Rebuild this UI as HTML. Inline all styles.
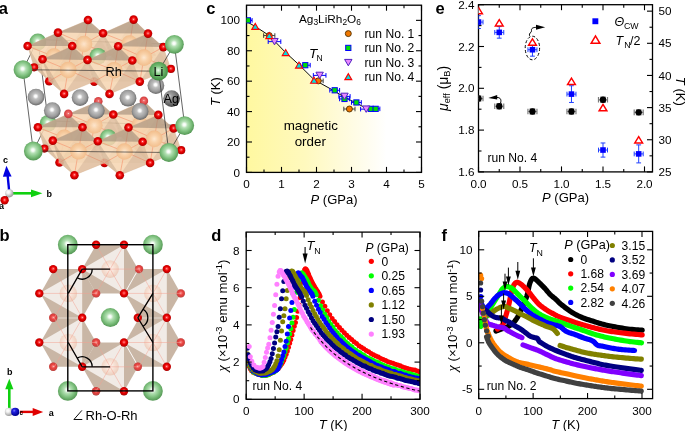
<!DOCTYPE html><html><head><meta charset="utf-8"><style>html,body{margin:0;padding:0;background:#fff;overflow:hidden}svg{display:block;font-family:"Liberation Sans",sans-serif;will-change:transform}</style></head><body>
<svg width="685" height="431" viewBox="0 0 685 431">
<rect width="685" height="431" fill="#fff"/>
<defs>
<radialGradient id="gO" cx="50%" cy="46%" r="58%" fx="50%" fy="46%">
<stop offset="0" stop-color="#FFE8E8"/>
<stop offset="0.14" stop-color="#FF5050"/>
<stop offset="0.45" stop-color="#E80000"/>
<stop offset="0.8" stop-color="#C00000"/>
<stop offset="1" stop-color="#880000"/>
</radialGradient>
<radialGradient id="gOf" cx="50%" cy="46%" r="58%" fx="50%" fy="46%">
<stop offset="0" stop-color="#FFE8E8"/>
<stop offset="0.18" stop-color="#F07070"/>
<stop offset="0.6" stop-color="#E04848"/>
<stop offset="1" stop-color="#B84040"/>
</radialGradient>
<radialGradient id="gLi" cx="48%" cy="45%" r="58%" fx="48%" fy="45%">
<stop offset="0" stop-color="#FFFFFF"/>
<stop offset="0.12" stop-color="#F4FCF4"/>
<stop offset="0.3" stop-color="#B4E0B4"/>
<stop offset="0.62" stop-color="#80C280"/>
<stop offset="1" stop-color="#4C904C"/>
</radialGradient>
<radialGradient id="gLi2" cx="48%" cy="45%" r="58%" fx="48%" fy="45%">
<stop offset="0" stop-color="#F4FCF4"/>
<stop offset="0.14" stop-color="#C0E8C0"/>
<stop offset="0.42" stop-color="#76BE76"/>
<stop offset="1" stop-color="#3A863A"/>
</radialGradient>
<radialGradient id="gAg" cx="48%" cy="45%" r="58%" fx="48%" fy="45%">
<stop offset="0" stop-color="#FFFFFF"/>
<stop offset="0.12" stop-color="#FAFAFA"/>
<stop offset="0.3" stop-color="#C0C0C0"/>
<stop offset="0.68" stop-color="#9C9C9C"/>
<stop offset="1" stop-color="#5E5E5E"/>
</radialGradient>
<radialGradient id="gAg2" cx="38%" cy="35%" r="62%" fx="38%" fy="35%">
<stop offset="0" stop-color="#D0D0D0"/>
<stop offset="0.2" stop-color="#A0A0A0"/>
<stop offset="0.55" stop-color="#808080"/>
<stop offset="1" stop-color="#505050"/>
</radialGradient>
<radialGradient id="gRh" cx="50%" cy="50%" r="55%" fx="50%" fy="50%">
<stop offset="0" stop-color="#FFEAD4"/>
<stop offset="0.4" stop-color="#F9D0A6"/>
<stop offset="0.85" stop-color="#F2BA86"/>
<stop offset="1" stop-color="#EAAA74"/>
</radialGradient>
<radialGradient id="gRhb" cx="48%" cy="45%" r="58%" fx="48%" fy="45%">
<stop offset="0" stop-color="#FFF8F4"/>
<stop offset="0.4" stop-color="#F8E4D8"/>
<stop offset="0.8" stop-color="#F0D2C2"/>
<stop offset="1" stop-color="#E6C6B4"/>
</radialGradient>
<radialGradient id="gW" cx="38%" cy="35%" r="62%" fx="38%" fy="35%">
<stop offset="0" stop-color="#FFFFFF"/>
<stop offset="0.3" stop-color="#F4F4F4"/>
<stop offset="1" stop-color="#A0A0A0"/>
</radialGradient>
<radialGradient id="gBl" cx="38%" cy="35%" r="62%" fx="38%" fy="35%">
<stop offset="0" stop-color="#8080FF"/>
<stop offset="0.3" stop-color="#2020E0"/>
<stop offset="1" stop-color="#000090"/>
</radialGradient>
</defs>
<line x1="37.8" y1="39.5" x2="48.1" y2="120.8" stroke="#303030" stroke-width="0.75" />
<line x1="174.4" y1="44.3" x2="184.7" y2="125.6" stroke="#303030" stroke-width="0.75" />
<line x1="37.8" y1="39.5" x2="174.4" y2="44.3" stroke="#303030" stroke-width="0.75" />
<line x1="48.1" y1="120.8" x2="184.7" y2="125.6" stroke="#303030" stroke-width="0.75" />
<line x1="37.8" y1="39.5" x2="23" y2="69.7" stroke="#303030" stroke-width="0.75" />
<line x1="48.1" y1="120.8" x2="33.3" y2="151" stroke="#303030" stroke-width="0.75" />
<polygon points="98.3,101.3 113.3,114.5 120.6,136.5 90.25,149.4 75.3,136.4 68.3,113.9" fill="#F6D3AE" fill-opacity="0.84" />
<polygon points="98.3,101.3 75.3,136.4 120.6,136.5" fill="#E9C6A2" fill-opacity="0.3" />
<path d="M94.3,125.3L98.3,101.3M94.3,125.3L68.3,113.9M94.3,125.3L113.3,114.5M94.3,125.3L75.3,136.4M94.3,125.3L120.6,136.5M94.3,125.3L90.25,149.4" stroke="#F58C64" stroke-width="0.8" opacity="0.85"/>
<circle cx="94.3" cy="125.3" r="8.3" fill="url(#gRh)" opacity="0.95"/>
<polygon points="68.3,113.9 113.3,114.5 90.25,149.4" fill="#FBE0C2" fill-opacity="0.16" />
<polygon points="68.3,113.9 75.3,136.4 90.25,149.4" fill="#B49A82" fill-opacity="0.4" />
<polygon points="113.3,114.5 120.6,136.5 90.25,149.4" fill="#BEA28A" fill-opacity="0.34" />
<polygon points="98.3,101.3 68.3,113.9 113.3,114.5" fill="#A08C7A" fill-opacity="0.62" />
<polygon points="98.3,101.3 113.3,114.5 120.6,136.5 90.25,149.4 75.3,136.4 68.3,113.9" fill="none" stroke="#D0A888" stroke-width="0.4" opacity="0.6"/>
<polygon points="143.9,100.9 158.3,114.9 165.9,136.6 135.55,149.4 120.6,136.5 113.3,114.5" fill="#F6D3AE" fill-opacity="0.84" />
<polygon points="143.9,100.9 120.6,136.5 165.9,136.6" fill="#E9C6A2" fill-opacity="0.3" />
<path d="M139.9,124.9L143.9,100.9M139.9,124.9L113.3,114.5M139.9,124.9L158.3,114.9M139.9,124.9L120.6,136.5M139.9,124.9L165.9,136.6M139.9,124.9L135.55,149.4" stroke="#F58C64" stroke-width="0.8" opacity="0.85"/>
<circle cx="139.9" cy="124.9" r="8.3" fill="url(#gRh)" opacity="0.95"/>
<polygon points="113.3,114.5 158.3,114.9 135.55,149.4" fill="#FBE0C2" fill-opacity="0.16" />
<polygon points="113.3,114.5 120.6,136.5 135.55,149.4" fill="#B49A82" fill-opacity="0.4" />
<polygon points="158.3,114.9 165.9,136.6 135.55,149.4" fill="#BEA28A" fill-opacity="0.34" />
<polygon points="143.9,100.9 113.3,114.5 158.3,114.9" fill="#A08C7A" fill-opacity="0.62" />
<polygon points="143.9,100.9 158.3,114.9 165.9,136.6 135.55,149.4 120.6,136.5 113.3,114.5" fill="none" stroke="#D0A888" stroke-width="0.4" opacity="0.6"/>
<circle cx="48.2" cy="123.3" r="8.4" fill="url(#gLi)"/>
<circle cx="108.3" cy="137.6" r="8.4" fill="url(#gLi)"/>
<polygon points="68.3,113.9 82.5,127.3 90.25,149.4 59.5,162.5 44.4,148.6 37.9,127.3" fill="#F6D3AE" fill-opacity="0.84" />
<polygon points="68.3,113.9 44.4,148.6 90.25,149.4" fill="#E9C6A2" fill-opacity="0.3" />
<path d="M64.3,137.9L68.3,113.9M64.3,137.9L37.9,127.3M64.3,137.9L82.5,127.3M64.3,137.9L44.4,148.6M64.3,137.9L90.25,149.4M64.3,137.9L59.5,162.5" stroke="#F58C64" stroke-width="0.8" opacity="0.85"/>
<circle cx="64.3" cy="137.9" r="8.3" fill="url(#gRh)" opacity="1.0"/>
<polygon points="37.9,127.3 82.5,127.3 59.5,162.5" fill="#FBE0C2" fill-opacity="0.16" />
<polygon points="37.9,127.3 44.4,148.6 59.5,162.5" fill="#B49A82" fill-opacity="0.4" />
<polygon points="82.5,127.3 90.25,149.4 59.5,162.5" fill="#BEA28A" fill-opacity="0.34" />
<polygon points="68.3,113.9 37.9,127.3 82.5,127.3" fill="#A08C7A" fill-opacity="0.62" />
<polygon points="68.3,113.9 82.5,127.3 90.25,149.4 59.5,162.5 44.4,148.6 37.9,127.3" fill="none" stroke="#D0A888" stroke-width="0.4" opacity="0.6"/>
<polygon points="158.3,114.9 173.6,128.4 181.2,150.2 150.1,162.9 135.55,149.4 128.5,127.5" fill="#F6D3AE" fill-opacity="0.84" />
<polygon points="158.3,114.9 135.55,149.4 181.2,150.2" fill="#E9C6A2" fill-opacity="0.3" />
<path d="M154.3,138.9L158.3,114.9M154.3,138.9L128.5,127.5M154.3,138.9L173.6,128.4M154.3,138.9L135.55,149.4M154.3,138.9L181.2,150.2M154.3,138.9L150.1,162.9" stroke="#F58C64" stroke-width="0.8" opacity="0.85"/>
<circle cx="154.3" cy="138.9" r="8.3" fill="url(#gRh)" opacity="1.0"/>
<polygon points="128.5,127.5 173.6,128.4 150.1,162.9" fill="#FBE0C2" fill-opacity="0.16" />
<polygon points="128.5,127.5 135.55,149.4 150.1,162.9" fill="#B49A82" fill-opacity="0.4" />
<polygon points="173.6,128.4 181.2,150.2 150.1,162.9" fill="#BEA28A" fill-opacity="0.34" />
<polygon points="158.3,114.9 128.5,127.5 173.6,128.4" fill="#A08C7A" fill-opacity="0.62" />
<polygon points="158.3,114.9 173.6,128.4 181.2,150.2 150.1,162.9 135.55,149.4 128.5,127.5" fill="none" stroke="#D0A888" stroke-width="0.4" opacity="0.6"/>
<circle cx="44.4" cy="148.6" r="4.1" fill="url(#gO)"/>
<circle cx="181.2" cy="150.2" r="4.1" fill="url(#gO)"/>
<circle cx="59.5" cy="162.5" r="4.3" fill="url(#gO)"/>
<circle cx="104.5" cy="162.9" r="4.3" fill="url(#gO)"/>
<polygon points="82.5,127.3 97.8,141.2 104.5,162.9 74.4,175.2 59.5,162.5 52.8,140.6" fill="#F6D3AE" fill-opacity="0.84" />
<polygon points="82.5,127.3 59.5,162.5 104.5,162.9" fill="#E9C6A2" fill-opacity="0.3" />
<path d="M78.5,151.3L82.5,127.3M78.5,151.3L52.8,140.6M78.5,151.3L97.8,141.2M78.5,151.3L59.5,162.5M78.5,151.3L104.5,162.9M78.5,151.3L74.4,175.2" stroke="#F58C64" stroke-width="0.8" opacity="0.85"/>
<circle cx="78.5" cy="151.3" r="8.3" fill="url(#gRh)" opacity="1.0"/>
<polygon points="52.8,140.6 97.8,141.2 74.4,175.2" fill="#FBE0C2" fill-opacity="0.16" />
<polygon points="52.8,140.6 59.5,162.5 74.4,175.2" fill="#B49A82" fill-opacity="0.4" />
<polygon points="97.8,141.2 104.5,162.9 74.4,175.2" fill="#BEA28A" fill-opacity="0.34" />
<polygon points="82.5,127.3 52.8,140.6 97.8,141.2" fill="#A08C7A" fill-opacity="0.62" />
<polygon points="82.5,127.3 97.8,141.2 104.5,162.9 74.4,175.2 59.5,162.5 52.8,140.6" fill="none" stroke="#D0A888" stroke-width="0.4" opacity="0.6"/>
<polygon points="128.5,127.5 142.6,141.8 150.1,162.9 119.8,175.2 104.5,162.9 97.8,141.2" fill="#F6D3AE" fill-opacity="0.84" />
<polygon points="128.5,127.5 104.5,162.9 150.1,162.9" fill="#E9C6A2" fill-opacity="0.3" />
<path d="M124.5,151.5L128.5,127.5M124.5,151.5L97.8,141.2M124.5,151.5L142.6,141.8M124.5,151.5L104.5,162.9M124.5,151.5L150.1,162.9M124.5,151.5L119.8,175.2" stroke="#F58C64" stroke-width="0.8" opacity="0.85"/>
<circle cx="124.5" cy="151.5" r="8.3" fill="url(#gRh)" opacity="1.0"/>
<polygon points="97.8,141.2 142.6,141.8 119.8,175.2" fill="#FBE0C2" fill-opacity="0.16" />
<polygon points="97.8,141.2 104.5,162.9 119.8,175.2" fill="#B49A82" fill-opacity="0.4" />
<polygon points="142.6,141.8 150.1,162.9 119.8,175.2" fill="#BEA28A" fill-opacity="0.34" />
<polygon points="128.5,127.5 97.8,141.2 142.6,141.8" fill="#A08C7A" fill-opacity="0.62" />
<polygon points="128.5,127.5 142.6,141.8 150.1,162.9 119.8,175.2 104.5,162.9 97.8,141.2" fill="none" stroke="#D0A888" stroke-width="0.4" opacity="0.6"/>
<circle cx="98.3" cy="101.3" r="4.3" fill="url(#gOf)"/>
<circle cx="143.9" cy="100.9" r="4.3" fill="url(#gOf)"/>
<circle cx="68.3" cy="113.9" r="4.3" fill="url(#gOf)"/>
<circle cx="113.3" cy="114.5" r="4.3" fill="url(#gO)"/>
<circle cx="158.3" cy="114.9" r="4.3" fill="url(#gO)"/>
<circle cx="37.9" cy="127.3" r="4.3" fill="url(#gO)"/>
<circle cx="82.5" cy="127.3" r="4.3" fill="url(#gO)"/>
<circle cx="128.5" cy="127.5" r="4.3" fill="url(#gO)"/>
<circle cx="173.6" cy="128.4" r="4.3" fill="url(#gO)"/>
<circle cx="52.8" cy="140.6" r="4.3" fill="url(#gO)"/>
<circle cx="97.8" cy="141.2" r="4.3" fill="url(#gO)"/>
<circle cx="142.6" cy="141.8" r="4.3" fill="url(#gO)"/>
<circle cx="74.4" cy="175.2" r="4.3" fill="url(#gO)"/>
<circle cx="119.8" cy="175.2" r="4.3" fill="url(#gO)"/>
<circle cx="150.1" cy="162.9" r="4.3" fill="url(#gO)"/>
<circle cx="36" cy="97.1" r="8.4" fill="url(#gAg)"/>
<circle cx="80.1" cy="97.6" r="8.4" fill="url(#gAg)"/>
<circle cx="128" cy="98.2" r="8.4" fill="url(#gAg)"/>
<circle cx="155.9" cy="85.6" r="8.4" fill="url(#gAg)"/>
<circle cx="52.3" cy="110.6" r="8.4" fill="url(#gAg)"/>
<circle cx="96.3" cy="110.6" r="8.4" fill="url(#gAg)"/>
<circle cx="140.1" cy="111.5" r="8.4" fill="url(#gAg)"/>
<circle cx="171.6" cy="98.6" r="8.4" fill="url(#gAg2)"/>
<polygon points="88,20 103,33.2 110.3,55.2 79.95,68.1 65,55.1 58,32.6" fill="#F6D3AE" fill-opacity="0.84" />
<polygon points="88,20 65,55.1 110.3,55.2" fill="#E9C6A2" fill-opacity="0.3" />
<path d="M84,44L88,20M84,44L58,32.6M84,44L103,33.2M84,44L65,55.1M84,44L110.3,55.2M84,44L79.95,68.1" stroke="#F58C64" stroke-width="0.8" opacity="0.85"/>
<circle cx="84" cy="44" r="8.3" fill="url(#gRh)" opacity="0.95"/>
<polygon points="58,32.6 103,33.2 79.95,68.1" fill="#FBE0C2" fill-opacity="0.16" />
<polygon points="58,32.6 65,55.1 79.95,68.1" fill="#B49A82" fill-opacity="0.4" />
<polygon points="103,33.2 110.3,55.2 79.95,68.1" fill="#BEA28A" fill-opacity="0.34" />
<polygon points="88,20 58,32.6 103,33.2" fill="#A08C7A" fill-opacity="0.62" />
<polygon points="88,20 103,33.2 110.3,55.2 79.95,68.1 65,55.1 58,32.6" fill="none" stroke="#D0A888" stroke-width="0.4" opacity="0.6"/>
<polygon points="133.6,19.6 148,33.6 155.6,55.3 125.25,68.1 110.3,55.2 103,33.2" fill="#F6D3AE" fill-opacity="0.84" />
<polygon points="133.6,19.6 110.3,55.2 155.6,55.3" fill="#E9C6A2" fill-opacity="0.3" />
<path d="M129.6,43.6L133.6,19.6M129.6,43.6L103,33.2M129.6,43.6L148,33.6M129.6,43.6L110.3,55.2M129.6,43.6L155.6,55.3M129.6,43.6L125.25,68.1" stroke="#F58C64" stroke-width="0.8" opacity="0.85"/>
<circle cx="129.6" cy="43.6" r="8.3" fill="url(#gRh)" opacity="0.95"/>
<polygon points="103,33.2 148,33.6 125.25,68.1" fill="#FBE0C2" fill-opacity="0.16" />
<polygon points="103,33.2 110.3,55.2 125.25,68.1" fill="#B49A82" fill-opacity="0.4" />
<polygon points="148,33.6 155.6,55.3 125.25,68.1" fill="#BEA28A" fill-opacity="0.34" />
<polygon points="133.6,19.6 103,33.2 148,33.6" fill="#A08C7A" fill-opacity="0.62" />
<polygon points="133.6,19.6 148,33.6 155.6,55.3 125.25,68.1 110.3,55.2 103,33.2" fill="none" stroke="#D0A888" stroke-width="0.4" opacity="0.6"/>
<circle cx="37.9" cy="42" r="8.4" fill="url(#gLi)"/>
<circle cx="98" cy="56.3" r="8.4" fill="url(#gLi)"/>
<polygon points="58,32.6 72.2,46 79.95,68.1 49.2,81.2 34.1,67.3 27.6,46" fill="#F6D3AE" fill-opacity="0.84" />
<polygon points="58,32.6 34.1,67.3 79.95,68.1" fill="#E9C6A2" fill-opacity="0.3" />
<path d="M54,56.6L58,32.6M54,56.6L27.6,46M54,56.6L72.2,46M54,56.6L34.1,67.3M54,56.6L79.95,68.1M54,56.6L49.2,81.2" stroke="#F58C64" stroke-width="0.8" opacity="0.85"/>
<circle cx="54" cy="56.6" r="8.3" fill="url(#gRh)" opacity="1.0"/>
<polygon points="27.6,46 72.2,46 49.2,81.2" fill="#FBE0C2" fill-opacity="0.16" />
<polygon points="27.6,46 34.1,67.3 49.2,81.2" fill="#B49A82" fill-opacity="0.4" />
<polygon points="72.2,46 79.95,68.1 49.2,81.2" fill="#BEA28A" fill-opacity="0.34" />
<polygon points="58,32.6 27.6,46 72.2,46" fill="#A08C7A" fill-opacity="0.62" />
<polygon points="58,32.6 72.2,46 79.95,68.1 49.2,81.2 34.1,67.3 27.6,46" fill="none" stroke="#D0A888" stroke-width="0.4" opacity="0.6"/>
<polygon points="148,33.6 163.3,47.1 170.9,68.9 139.8,81.6 125.25,68.1 118.2,46.2" fill="#F6D3AE" fill-opacity="0.84" />
<polygon points="148,33.6 125.25,68.1 170.9,68.9" fill="#E9C6A2" fill-opacity="0.3" />
<path d="M144,57.6L148,33.6M144,57.6L118.2,46.2M144,57.6L163.3,47.1M144,57.6L125.25,68.1M144,57.6L170.9,68.9M144,57.6L139.8,81.6" stroke="#F58C64" stroke-width="0.8" opacity="0.85"/>
<circle cx="144" cy="57.6" r="8.3" fill="url(#gRh)" opacity="1.0"/>
<polygon points="118.2,46.2 163.3,47.1 139.8,81.6" fill="#FBE0C2" fill-opacity="0.16" />
<polygon points="118.2,46.2 125.25,68.1 139.8,81.6" fill="#B49A82" fill-opacity="0.4" />
<polygon points="163.3,47.1 170.9,68.9 139.8,81.6" fill="#BEA28A" fill-opacity="0.34" />
<polygon points="148,33.6 118.2,46.2 163.3,47.1" fill="#A08C7A" fill-opacity="0.62" />
<polygon points="148,33.6 163.3,47.1 170.9,68.9 139.8,81.6 125.25,68.1 118.2,46.2" fill="none" stroke="#D0A888" stroke-width="0.4" opacity="0.6"/>
<circle cx="34.1" cy="67.3" r="4.1" fill="url(#gO)"/>
<circle cx="170.9" cy="68.9" r="4.1" fill="url(#gO)"/>
<circle cx="49.2" cy="81.2" r="4.3" fill="url(#gO)"/>
<circle cx="94.2" cy="81.6" r="4.3" fill="url(#gO)"/>
<polygon points="72.2,46 87.5,59.9 94.2,81.6 64.1,93.9 49.2,81.2 42.5,59.3" fill="#F6D3AE" fill-opacity="0.84" />
<polygon points="72.2,46 49.2,81.2 94.2,81.6" fill="#E9C6A2" fill-opacity="0.3" />
<path d="M68.2,70L72.2,46M68.2,70L42.5,59.3M68.2,70L87.5,59.9M68.2,70L49.2,81.2M68.2,70L94.2,81.6M68.2,70L64.1,93.9" stroke="#F58C64" stroke-width="0.8" opacity="0.85"/>
<circle cx="68.2" cy="70" r="8.3" fill="url(#gRh)" opacity="1.0"/>
<polygon points="42.5,59.3 87.5,59.9 64.1,93.9" fill="#FBE0C2" fill-opacity="0.16" />
<polygon points="42.5,59.3 49.2,81.2 64.1,93.9" fill="#B49A82" fill-opacity="0.4" />
<polygon points="87.5,59.9 94.2,81.6 64.1,93.9" fill="#BEA28A" fill-opacity="0.34" />
<polygon points="72.2,46 42.5,59.3 87.5,59.9" fill="#A08C7A" fill-opacity="0.62" />
<polygon points="72.2,46 87.5,59.9 94.2,81.6 64.1,93.9 49.2,81.2 42.5,59.3" fill="none" stroke="#D0A888" stroke-width="0.4" opacity="0.6"/>
<polygon points="118.2,46.2 132.3,60.5 139.8,81.6 109.5,93.9 94.2,81.6 87.5,59.9" fill="#F6D3AE" fill-opacity="0.84" />
<polygon points="118.2,46.2 94.2,81.6 139.8,81.6" fill="#E9C6A2" fill-opacity="0.3" />
<path d="M114.2,70.2L118.2,46.2M114.2,70.2L87.5,59.9M114.2,70.2L132.3,60.5M114.2,70.2L94.2,81.6M114.2,70.2L139.8,81.6M114.2,70.2L109.5,93.9" stroke="#F58C64" stroke-width="0.8" opacity="0.85"/>
<circle cx="114.2" cy="70.2" r="8.3" fill="url(#gRh)" opacity="1.0"/>
<polygon points="87.5,59.9 132.3,60.5 109.5,93.9" fill="#FBE0C2" fill-opacity="0.16" />
<polygon points="87.5,59.9 94.2,81.6 109.5,93.9" fill="#B49A82" fill-opacity="0.4" />
<polygon points="132.3,60.5 139.8,81.6 109.5,93.9" fill="#BEA28A" fill-opacity="0.34" />
<polygon points="118.2,46.2 87.5,59.9 132.3,60.5" fill="#A08C7A" fill-opacity="0.62" />
<polygon points="118.2,46.2 132.3,60.5 139.8,81.6 109.5,93.9 94.2,81.6 87.5,59.9" fill="none" stroke="#D0A888" stroke-width="0.4" opacity="0.6"/>
<circle cx="88" cy="20" r="4.3" fill="url(#gO)"/>
<circle cx="133.6" cy="19.6" r="4.3" fill="url(#gO)"/>
<circle cx="58" cy="32.6" r="4.3" fill="url(#gO)"/>
<circle cx="103" cy="33.2" r="4.3" fill="url(#gO)"/>
<circle cx="148" cy="33.6" r="4.3" fill="url(#gO)"/>
<circle cx="27.6" cy="46" r="4.3" fill="url(#gO)"/>
<circle cx="72.2" cy="46" r="4.3" fill="url(#gO)"/>
<circle cx="118.2" cy="46.2" r="4.3" fill="url(#gO)"/>
<circle cx="163.3" cy="47.1" r="4.3" fill="url(#gO)"/>
<circle cx="42.5" cy="59.3" r="4.3" fill="url(#gO)"/>
<circle cx="87.5" cy="59.9" r="4.3" fill="url(#gO)"/>
<circle cx="132.3" cy="60.5" r="4.3" fill="url(#gO)"/>
<circle cx="64.1" cy="93.9" r="4.3" fill="url(#gO)"/>
<circle cx="109.5" cy="93.9" r="4.3" fill="url(#gO)"/>
<circle cx="139.8" cy="81.6" r="4.3" fill="url(#gO)"/>
<line x1="23" y1="69.7" x2="33.3" y2="151" stroke="#303030" stroke-width="0.75" />
<line x1="158.6" y1="71.2" x2="168.9" y2="152.5" stroke="#303030" stroke-width="0.75" />
<line x1="158.6" y1="71.2" x2="174.4" y2="44.3" stroke="#303030" stroke-width="0.75" />
<line x1="168.9" y1="152.5" x2="184.7" y2="125.6" stroke="#303030" stroke-width="0.75" />
<line x1="23" y1="69.7" x2="158.6" y2="71.2" stroke="#303030" stroke-width="0.9" opacity="0.75"/>
<line x1="33.3" y1="151" x2="168.9" y2="152.5" stroke="#303030" stroke-width="0.9" opacity="0.75"/>
<circle cx="23" cy="69.7" r="9.4" fill="url(#gLi)"/>
<circle cx="33.3" cy="151" r="9.4" fill="url(#gLi)"/>
<circle cx="158.6" cy="71.2" r="9.4" fill="url(#gLi2)"/>
<circle cx="168.9" cy="152.5" r="9.4" fill="url(#gLi)"/>
<circle cx="174.4" cy="44.3" r="9.4" fill="url(#gLi)"/>
<circle cx="184.7" cy="125.6" r="9.4" fill="url(#gLi)"/>
<text x="105.6" y="75.6" font-size="12.8">Rh</text>
<text x="153.4" y="75.6" font-size="12.8">Li</text>
<text x="163.6" y="102.8" font-size="12.6">Ag</text>
<line x1="9.3" y1="192.5" x2="7.6" y2="175" stroke="#0000E0" stroke-width="2.4"/>
<polygon points="2.9,176.8 11.6,176.4 6.4,165.8" fill="#0000E0"/>
<line x1="11" y1="193.3" x2="32" y2="193.3" stroke="#10D010" stroke-width="2.6"/>
<polygon points="31,189.6 42.4,193.3 31,197.2" fill="#10D010"/>
<line x1="9" y1="194" x2="5" y2="199.5" stroke="#900000" stroke-width="2.4"/>
<circle cx="9.3" cy="193.3" r="4.1" fill="url(#gW)"/>
<circle cx="4.6" cy="200.3" r="4.2" fill="url(#gO)"/>
<text x="3" y="163.4" font-size="9" font-weight="bold">c</text>
<text x="46.6" y="196.8" font-size="9" font-weight="bold">b</text>
<text x="-1" y="209" font-size="9" font-weight="bold">a</text>
<polygon points="138,269.1 124.05,244.75 96.15,244.75 82.2,269.1 96.15,293.45 124.05,293.45" fill="#BCA48E" fill-opacity="0.8" />
<polygon points="96.2,293.4 82.25,269.05 54.35,269.05 40.4,293.4 54.35,317.75 82.25,317.75" fill="#BCA48E" fill-opacity="0.8" />
<polygon points="180.8,293.4 166.85,269.05 138.95,269.05 125,293.4 138.95,317.75 166.85,317.75" fill="#BCA48E" fill-opacity="0.8" />
<polygon points="96.2,342.5 82.25,318.15 54.35,318.15 40.4,342.5 54.35,366.85 82.25,366.85" fill="#BCA48E" fill-opacity="0.8" />
<polygon points="180.8,342.5 166.85,318.15 138.95,318.15 125,342.5 138.95,366.85 166.85,366.85" fill="#BCA48E" fill-opacity="0.8" />
<polygon points="138,366.8 124.05,342.45 96.15,342.45 82.2,366.8 96.15,391.15 124.05,391.15" fill="#BCA48E" fill-opacity="0.8" />
<circle cx="96.1" cy="293.4" r="4.2" fill="url(#gO)"/>
<circle cx="139" cy="269.1" r="4.2" fill="url(#gO)"/>
<circle cx="180.8" cy="293.4" r="4.2" fill="url(#gO)"/>
<circle cx="53.2" cy="317.8" r="4.2" fill="url(#gO)"/>
<circle cx="96.1" cy="342.5" r="4.2" fill="url(#gO)"/>
<circle cx="180.8" cy="342.5" r="4.2" fill="url(#gO)"/>
<circle cx="53.2" cy="366.8" r="4.2" fill="url(#gO)"/>
<circle cx="137.8" cy="366.8" r="4.2" fill="url(#gO)"/>
<circle cx="96.1" cy="391.2" r="4.2" fill="url(#gO)"/>
<circle cx="137.8" cy="317.8" r="4.2" fill="url(#gO)"/>
<polygon points="82.2,269.1 124,244.7 124,293.4" fill="#F4F0EC" fill-opacity="0.92" />
<circle cx="110.1" cy="269.1" r="8.8" fill="url(#gRhb)" opacity="0.95"/>
<path d="M110.1,269.1L138,269.1M110.1,269.1L124.05,244.75M110.1,269.1L96.15,244.75M110.1,269.1L82.2,269.1M110.1,269.1L96.15,293.45M110.1,269.1L124.05,293.45" stroke="#F4A090" stroke-width="0.7" opacity="0.7"/>
<polygon points="39.3,293.4 82.2,269.1 82.2,317.8" fill="#F4F0EC" fill-opacity="0.92" />
<circle cx="68.3" cy="293.4" r="8.8" fill="url(#gRhb)" opacity="0.95"/>
<path d="M68.3,293.4L96.2,293.4M68.3,293.4L82.25,269.05M68.3,293.4L54.35,269.05M68.3,293.4L40.4,293.4M68.3,293.4L54.35,317.75M68.3,293.4L82.25,317.75" stroke="#F4A090" stroke-width="0.7" opacity="0.7"/>
<polygon points="124,293.4 166.8,269.1 166.8,317.8" fill="#F4F0EC" fill-opacity="0.92" />
<circle cx="152.9" cy="293.4" r="8.8" fill="url(#gRhb)" opacity="0.95"/>
<path d="M152.9,293.4L180.8,293.4M152.9,293.4L166.85,269.05M152.9,293.4L138.95,269.05M152.9,293.4L125,293.4M152.9,293.4L138.95,317.75M152.9,293.4L166.85,317.75" stroke="#F4A090" stroke-width="0.7" opacity="0.7"/>
<polygon points="39.3,342.5 82.2,317.8 82.2,366.8" fill="#F4F0EC" fill-opacity="0.92" />
<circle cx="68.3" cy="342.5" r="8.8" fill="url(#gRhb)" opacity="0.95"/>
<path d="M68.3,342.5L96.2,342.5M68.3,342.5L82.25,318.15M68.3,342.5L54.35,318.15M68.3,342.5L40.4,342.5M68.3,342.5L54.35,366.85M68.3,342.5L82.25,366.85" stroke="#F4A090" stroke-width="0.7" opacity="0.7"/>
<polygon points="124,342.5 166.8,317.8 166.8,366.8" fill="#F4F0EC" fill-opacity="0.92" />
<circle cx="152.9" cy="342.5" r="8.8" fill="url(#gRhb)" opacity="0.95"/>
<path d="M152.9,342.5L180.8,342.5M152.9,342.5L166.85,318.15M152.9,342.5L138.95,318.15M152.9,342.5L125,342.5M152.9,342.5L138.95,366.85M152.9,342.5L166.85,366.85" stroke="#F4A090" stroke-width="0.7" opacity="0.7"/>
<polygon points="82.2,366.8 124,342.5 124,391.2" fill="#F4F0EC" fill-opacity="0.92" />
<circle cx="110.1" cy="366.8" r="8.8" fill="url(#gRhb)" opacity="0.95"/>
<path d="M110.1,366.8L138,366.8M110.1,366.8L124.05,342.45M110.1,366.8L96.15,342.45M110.1,366.8L82.2,366.8M110.1,366.8L96.15,391.15M110.1,366.8L124.05,391.15" stroke="#F4A090" stroke-width="0.7" opacity="0.7"/>
<circle cx="96.1" cy="293.4" r="4.3" fill="#E8DCD2" opacity="0.3"/>
<circle cx="139" cy="269.1" r="4.3" fill="#E8DCD2" opacity="0.3"/>
<circle cx="180.8" cy="293.4" r="4.3" fill="#E8DCD2" opacity="0.3"/>
<circle cx="53.2" cy="317.8" r="4.3" fill="#E8DCD2" opacity="0.3"/>
<circle cx="96.1" cy="342.5" r="4.3" fill="#E8DCD2" opacity="0.3"/>
<circle cx="180.8" cy="342.5" r="4.3" fill="#E8DCD2" opacity="0.3"/>
<circle cx="53.2" cy="366.8" r="4.3" fill="#E8DCD2" opacity="0.3"/>
<circle cx="137.8" cy="366.8" r="4.3" fill="#E8DCD2" opacity="0.3"/>
<circle cx="96.1" cy="391.2" r="4.3" fill="#E8DCD2" opacity="0.3"/>
<circle cx="96.1" cy="244.7" r="4.2" fill="url(#gO)"/>
<circle cx="124" cy="244.7" r="4.2" fill="url(#gO)"/>
<circle cx="53.2" cy="269.1" r="4.2" fill="url(#gO)"/>
<circle cx="82.2" cy="269.1" r="4.2" fill="url(#gO)"/>
<circle cx="166.8" cy="269.1" r="4.2" fill="url(#gO)"/>
<circle cx="39.3" cy="293.4" r="4.2" fill="url(#gO)"/>
<circle cx="124" cy="293.4" r="4.2" fill="url(#gO)"/>
<circle cx="82.2" cy="317.8" r="4.2" fill="url(#gO)"/>
<circle cx="166.8" cy="317.8" r="4.2" fill="url(#gO)"/>
<circle cx="39.3" cy="342.5" r="4.2" fill="url(#gO)"/>
<circle cx="124" cy="342.5" r="4.2" fill="url(#gO)"/>
<circle cx="82.2" cy="366.8" r="4.2" fill="url(#gO)"/>
<circle cx="166.8" cy="366.8" r="4.2" fill="url(#gO)"/>
<circle cx="124" cy="391.2" r="4.2" fill="url(#gO)"/>
<circle cx="67.8" cy="244.7" r="9.9" fill="url(#gLi)"/>
<circle cx="152.9" cy="244.7" r="9.9" fill="url(#gLi)"/>
<circle cx="67.8" cy="390.9" r="9.9" fill="url(#gLi)"/>
<circle cx="152.9" cy="390.9" r="9.9" fill="url(#gLi)"/>
<circle cx="110.3" cy="317.6" r="9.5" fill="url(#gLi)"/>
<rect x="67.8" y="244.7" width="85.1" height="146.2" fill="none" stroke="#000" stroke-width="1.4"/>
<path d="M110.1,269.1 L82.2,269.1 L68.3,293.4" fill="none" stroke="#000" stroke-width="1.3"/>
<path d="M92.2,269.1 A10,10 0 0 1 77.2,277.8" fill="none" stroke="#000" stroke-width="1.3"/>
<path d="M110.1,366.8 L82.2,366.8 L68.3,342.5" fill="none" stroke="#000" stroke-width="1.3"/>
<path d="M92.2,366.8 A10,10 0 0 0 77.2,358.1" fill="none" stroke="#000" stroke-width="1.3"/>
<path d="M152.9,293.4 L137.8,317.8 L152.9,342.5" fill="none" stroke="#000" stroke-width="1.3"/>
<path d="M143.1,309.3 A10,10 0 0 1 143.1,326.3" fill="none" stroke="#000" stroke-width="1.3"/>
<path d="M81.9,410.4 L73.9,419.5 L82.3,419.5" fill="none" stroke="#000" stroke-width="0.95"/>
<text x="85.6" y="419.8" font-size="13">Rh-O-Rh</text>
<line x1="9.3" y1="410" x2="9.3" y2="388" stroke="#10D010" stroke-width="2.6"/>
<polygon points="5.2,389.2 13.4,389.2 9.3,378.7" fill="#10D010"/>
<line x1="20" y1="411.9" x2="34" y2="411.9" stroke="#E00000" stroke-width="2.4"/>
<polygon points="32.7,407.9 43.2,411.9 32.7,416" fill="#E00000"/>
<circle cx="8.9" cy="411.9" r="4.1" fill="url(#gW)"/>
<circle cx="15.2" cy="411.9" r="4.1" fill="url(#gBl)"/>
<text x="19.6" y="415" font-size="6.5" font-weight="bold">c</text>
<text x="7" y="375.2" font-size="9" font-weight="bold">b</text>
<text x="48.8" y="415.6" font-size="9" font-weight="bold">a</text>
<defs><linearGradient id="gc" x1="246.5" y1="0" x2="386.5" y2="0" gradientUnits="userSpaceOnUse"><stop offset="0" stop-color="#FFF8A0"/><stop offset="0.42" stop-color="#FFF9BE"/><stop offset="0.78" stop-color="#FFFCE6"/><stop offset="1" stop-color="#FFFFFF"/></linearGradient></defs>
<polygon points="246.5,172.4 246.5,21.57 255.25,26.43 269.25,35.56 285.7,52.58 299,64.75 314.05,79.65 332.25,89.84 344.5,97.14 356.4,103.07 367.25,108.84 407.5,108.84 407.5,172.4" fill="url(#gc)"/>
<polyline points="246.5,21.57 255.25,26.43 269.25,35.56 285.7,52.58 299,64.75 314.05,79.65 332.25,89.84 344.5,97.14 356.4,103.07 367.25,108.84" fill="none" stroke="#000" stroke-width="0.95"/>
<rect x="246.5" y="5.2" width="175" height="167.2" fill="none" stroke="#000" stroke-width="1.3"/>
<line x1="246.5" y1="172.4" x2="246.5" y2="166.9" stroke="#000" stroke-width="1.1" />
<line x1="246.5" y1="5.2" x2="246.5" y2="10.7" stroke="#000" stroke-width="1.1" />
<line x1="281.5" y1="172.4" x2="281.5" y2="166.9" stroke="#000" stroke-width="1.1" />
<line x1="281.5" y1="5.2" x2="281.5" y2="10.7" stroke="#000" stroke-width="1.1" />
<line x1="316.5" y1="172.4" x2="316.5" y2="166.9" stroke="#000" stroke-width="1.1" />
<line x1="316.5" y1="5.2" x2="316.5" y2="10.7" stroke="#000" stroke-width="1.1" />
<line x1="351.5" y1="172.4" x2="351.5" y2="166.9" stroke="#000" stroke-width="1.1" />
<line x1="351.5" y1="5.2" x2="351.5" y2="10.7" stroke="#000" stroke-width="1.1" />
<line x1="386.5" y1="172.4" x2="386.5" y2="166.9" stroke="#000" stroke-width="1.1" />
<line x1="386.5" y1="5.2" x2="386.5" y2="10.7" stroke="#000" stroke-width="1.1" />
<line x1="421.5" y1="172.4" x2="421.5" y2="166.9" stroke="#000" stroke-width="1.1" />
<line x1="421.5" y1="5.2" x2="421.5" y2="10.7" stroke="#000" stroke-width="1.1" />
<line x1="264" y1="172.4" x2="264" y2="169.4" stroke="#000" stroke-width="1.1" />
<line x1="264" y1="5.2" x2="264" y2="8.2" stroke="#000" stroke-width="1.1" />
<line x1="299" y1="172.4" x2="299" y2="169.4" stroke="#000" stroke-width="1.1" />
<line x1="299" y1="5.2" x2="299" y2="8.2" stroke="#000" stroke-width="1.1" />
<line x1="334" y1="172.4" x2="334" y2="169.4" stroke="#000" stroke-width="1.1" />
<line x1="334" y1="5.2" x2="334" y2="8.2" stroke="#000" stroke-width="1.1" />
<line x1="369" y1="172.4" x2="369" y2="169.4" stroke="#000" stroke-width="1.1" />
<line x1="369" y1="5.2" x2="369" y2="8.2" stroke="#000" stroke-width="1.1" />
<line x1="404" y1="172.4" x2="404" y2="169.4" stroke="#000" stroke-width="1.1" />
<line x1="404" y1="5.2" x2="404" y2="8.2" stroke="#000" stroke-width="1.1" />
<line x1="246.5" y1="172.4" x2="252" y2="172.4" stroke="#000" stroke-width="1.1" />
<line x1="246.5" y1="141.99" x2="252" y2="141.99" stroke="#000" stroke-width="1.1" />
<line x1="246.5" y1="111.58" x2="252" y2="111.58" stroke="#000" stroke-width="1.1" />
<line x1="246.5" y1="81.17" x2="252" y2="81.17" stroke="#000" stroke-width="1.1" />
<line x1="246.5" y1="50.76" x2="252" y2="50.76" stroke="#000" stroke-width="1.1" />
<line x1="246.5" y1="20.35" x2="252" y2="20.35" stroke="#000" stroke-width="1.1" />
<line x1="246.5" y1="157.19" x2="249.5" y2="157.19" stroke="#000" stroke-width="1.1" />
<line x1="246.5" y1="126.78" x2="249.5" y2="126.78" stroke="#000" stroke-width="1.1" />
<line x1="246.5" y1="96.38" x2="249.5" y2="96.38" stroke="#000" stroke-width="1.1" />
<line x1="246.5" y1="65.97" x2="249.5" y2="65.97" stroke="#000" stroke-width="1.1" />
<line x1="246.5" y1="35.56" x2="249.5" y2="35.56" stroke="#000" stroke-width="1.1" />
<line x1="421.5" y1="172.4" x2="416" y2="172.4" stroke="#000" stroke-width="1.1" />
<line x1="421.5" y1="141.99" x2="416" y2="141.99" stroke="#000" stroke-width="1.1" />
<line x1="421.5" y1="111.58" x2="416" y2="111.58" stroke="#000" stroke-width="1.1" />
<line x1="421.5" y1="81.17" x2="416" y2="81.17" stroke="#000" stroke-width="1.1" />
<line x1="421.5" y1="50.76" x2="416" y2="50.76" stroke="#000" stroke-width="1.1" />
<line x1="421.5" y1="20.35" x2="416" y2="20.35" stroke="#000" stroke-width="1.1" />
<line x1="421.5" y1="157.19" x2="418.5" y2="157.19" stroke="#000" stroke-width="1.1" />
<line x1="421.5" y1="126.78" x2="418.5" y2="126.78" stroke="#000" stroke-width="1.1" />
<line x1="421.5" y1="96.38" x2="418.5" y2="96.38" stroke="#000" stroke-width="1.1" />
<line x1="421.5" y1="65.97" x2="418.5" y2="65.97" stroke="#000" stroke-width="1.1" />
<line x1="421.5" y1="35.56" x2="418.5" y2="35.56" stroke="#000" stroke-width="1.1" />
<text x="246.5" y="188.3" font-size="11.7" text-anchor="middle" >0</text>
<text x="281.5" y="188.3" font-size="11.7" text-anchor="middle" >1</text>
<text x="316.5" y="188.3" font-size="11.7" text-anchor="middle" >2</text>
<text x="351.5" y="188.3" font-size="11.7" text-anchor="middle" >3</text>
<text x="386.5" y="188.3" font-size="11.7" text-anchor="middle" >4</text>
<text x="421.5" y="188.3" font-size="11.7" text-anchor="middle" >5</text>
<text x="240" y="176.5" font-size="11.7" text-anchor="end" >0</text>
<text x="240" y="146.09" font-size="11.7" text-anchor="end" >20</text>
<text x="240" y="115.68" font-size="11.7" text-anchor="end" >40</text>
<text x="240" y="85.27" font-size="11.7" text-anchor="end" >60</text>
<text x="240" y="54.86" font-size="11.7" text-anchor="end" >80</text>
<text x="240" y="24.45" font-size="11.7" text-anchor="end" >100</text>
<text x="334" y="204" font-size="13" text-anchor="middle"><tspan font-style="italic">P</tspan> (GPa)</text>
<text transform="translate(219.5,91.6) rotate(-90)" font-size="13" text-anchor="middle"><tspan font-style="italic">T</tspan> (K)</text>
<text x="299" y="22.5" font-size="11.8">Ag<tspan font-size="8.4" dy="2.6">3</tspan><tspan dy="-2.6">LiRh</tspan><tspan font-size="8.4" dy="2.6">2</tspan><tspan dy="-2.6">O</tspan><tspan font-size="8.4" dy="2.6">6</tspan></text>
<text x="308.9" y="57.6" font-size="13.5" font-style="italic">T</text><text x="316.5" y="61.1" font-size="8.6">N</text>
<text x="310.8" y="130.1" font-size="13.4" text-anchor="middle" >magnetic</text>
<text x="310.3" y="146.1" font-size="13.4" text-anchor="middle" >order</text>
<clipPath id="cc"><rect x="246.5" y="5.2" width="175" height="167.2"/></clipPath>
<g clip-path="url(#cc)">
<line x1="263.65" y1="35.56" x2="274.85" y2="35.56" stroke="#404040" stroke-width="1.0" />
<line x1="263.65" y1="33.26" x2="263.65" y2="37.86" stroke="#404040" stroke-width="1.0" />
<line x1="274.85" y1="33.26" x2="274.85" y2="37.86" stroke="#404040" stroke-width="1.0" />
<line x1="313.35" y1="80.87" x2="323.15" y2="80.87" stroke="#404040" stroke-width="1.0" />
<line x1="313.35" y1="78.57" x2="313.35" y2="83.17" stroke="#404040" stroke-width="1.0" />
<line x1="323.15" y1="78.57" x2="323.15" y2="83.17" stroke="#404040" stroke-width="1.0" />
<line x1="343.8" y1="109" x2="355" y2="109" stroke="#404040" stroke-width="1.0" />
<line x1="343.8" y1="106.7" x2="343.8" y2="111.3" stroke="#404040" stroke-width="1.0" />
<line x1="355" y1="106.7" x2="355" y2="111.3" stroke="#404040" stroke-width="1.0" />
<line x1="243.7" y1="20.35" x2="252.1" y2="20.35" stroke="#0000FF" stroke-width="1.0" />
<line x1="243.7" y1="18.05" x2="243.7" y2="22.65" stroke="#0000FF" stroke-width="1.0" />
<line x1="252.1" y1="18.05" x2="252.1" y2="22.65" stroke="#0000FF" stroke-width="1.0" />
<line x1="300.4" y1="65.2" x2="310.2" y2="65.2" stroke="#0000FF" stroke-width="1.0" />
<line x1="300.4" y1="62.9" x2="300.4" y2="67.5" stroke="#0000FF" stroke-width="1.0" />
<line x1="310.2" y1="62.9" x2="310.2" y2="67.5" stroke="#0000FF" stroke-width="1.0" />
<line x1="329.8" y1="90.29" x2="339.6" y2="90.29" stroke="#0000FF" stroke-width="1.0" />
<line x1="329.8" y1="87.99" x2="329.8" y2="92.59" stroke="#0000FF" stroke-width="1.0" />
<line x1="339.6" y1="87.99" x2="339.6" y2="92.59" stroke="#0000FF" stroke-width="1.0" />
<line x1="339.6" y1="98.96" x2="349.4" y2="98.96" stroke="#0000FF" stroke-width="1.0" />
<line x1="339.6" y1="96.66" x2="339.6" y2="101.26" stroke="#0000FF" stroke-width="1.0" />
<line x1="349.4" y1="96.66" x2="349.4" y2="101.26" stroke="#0000FF" stroke-width="1.0" />
<line x1="351.5" y1="102.46" x2="361.3" y2="102.46" stroke="#0000FF" stroke-width="1.0" />
<line x1="351.5" y1="100.16" x2="351.5" y2="104.76" stroke="#0000FF" stroke-width="1.0" />
<line x1="361.3" y1="100.16" x2="361.3" y2="104.76" stroke="#0000FF" stroke-width="1.0" />
<line x1="366.55" y1="108.84" x2="374.95" y2="108.84" stroke="#0000FF" stroke-width="1.0" />
<line x1="366.55" y1="106.54" x2="366.55" y2="111.14" stroke="#0000FF" stroke-width="1.0" />
<line x1="374.95" y1="106.54" x2="374.95" y2="111.14" stroke="#0000FF" stroke-width="1.0" />
<line x1="371.45" y1="108.84" x2="379.85" y2="108.84" stroke="#0000FF" stroke-width="1.0" />
<line x1="371.45" y1="106.54" x2="371.45" y2="111.14" stroke="#0000FF" stroke-width="1.0" />
<line x1="379.85" y1="106.54" x2="379.85" y2="111.14" stroke="#0000FF" stroke-width="1.0" />
<line x1="268.2" y1="41.64" x2="280.8" y2="41.64" stroke="#0000FF" stroke-width="1.0" />
<line x1="268.2" y1="39.34" x2="268.2" y2="43.94" stroke="#0000FF" stroke-width="1.0" />
<line x1="280.8" y1="39.34" x2="280.8" y2="43.94" stroke="#0000FF" stroke-width="1.0" />
<line x1="313.35" y1="75.39" x2="325.95" y2="75.39" stroke="#0000FF" stroke-width="1.0" />
<line x1="313.35" y1="73.09" x2="313.35" y2="77.69" stroke="#0000FF" stroke-width="1.0" />
<line x1="325.95" y1="73.09" x2="325.95" y2="77.69" stroke="#0000FF" stroke-width="1.0" />
<line x1="338.9" y1="96.38" x2="350.1" y2="96.38" stroke="#0000FF" stroke-width="1.0" />
<line x1="338.9" y1="94.08" x2="338.9" y2="98.68" stroke="#0000FF" stroke-width="1.0" />
<line x1="350.1" y1="94.08" x2="350.1" y2="98.68" stroke="#0000FF" stroke-width="1.0" />
<line x1="360.6" y1="109.15" x2="371.8" y2="109.15" stroke="#0000FF" stroke-width="1.0" />
<line x1="360.6" y1="106.85" x2="360.6" y2="111.45" stroke="#0000FF" stroke-width="1.0" />
<line x1="371.8" y1="106.85" x2="371.8" y2="111.45" stroke="#0000FF" stroke-width="1.0" />
<circle cx="269.25" cy="35.56" r="3.0" fill="#F07800" stroke="#503000" stroke-width="0.9"/>
<circle cx="318.25" cy="80.87" r="3.0" fill="#F07800" stroke="#503000" stroke-width="0.9"/>
<circle cx="349.4" cy="109" r="3.0" fill="#F07800" stroke="#503000" stroke-width="0.9"/>
<rect x="245.3" y="17.75" width="5.2" height="5.2" fill="#00E000" stroke="#0000FF" stroke-width="1.0"/>
<rect x="302.7" y="62.6" width="5.2" height="5.2" fill="#00E000" stroke="#0000FF" stroke-width="1.0"/>
<rect x="332.1" y="87.69" width="5.2" height="5.2" fill="#00E000" stroke="#0000FF" stroke-width="1.0"/>
<rect x="341.9" y="96.36" width="5.2" height="5.2" fill="#00E000" stroke="#0000FF" stroke-width="1.0"/>
<rect x="353.8" y="99.86" width="5.2" height="5.2" fill="#00E000" stroke="#0000FF" stroke-width="1.0"/>
<rect x="368.15" y="106.24" width="5.2" height="5.2" fill="#00E000" stroke="#0000FF" stroke-width="1.0"/>
<rect x="373.05" y="106.24" width="5.2" height="5.2" fill="#00E000" stroke="#0000FF" stroke-width="1.0"/>
<polygon points="270.8,38.44 278.2,38.44 274.5,44.84" fill="#E888FF" stroke="#5020C0" stroke-width="1.0" stroke-linejoin="miter"/>
<polygon points="315.95,72.19 323.35,72.19 319.65,78.59" fill="#E888FF" stroke="#5020C0" stroke-width="1.0" stroke-linejoin="miter"/>
<polygon points="340.8,93.18 348.2,93.18 344.5,99.58" fill="#E888FF" stroke="#5020C0" stroke-width="1.0" stroke-linejoin="miter"/>
<polygon points="362.5,105.95 369.9,105.95 366.2,112.35" fill="#E888FF" stroke="#5020C0" stroke-width="1.0" stroke-linejoin="miter"/>
<polygon points="251.8,29.43 258.7,29.43 255.25,23.43" fill="#00E0E0" stroke="#FF0000" stroke-width="1.15" stroke-linejoin="miter"/>
<polygon points="265.8,38.56 272.7,38.56 269.25,32.56" fill="#00E0E0" stroke="#FF0000" stroke-width="1.15" stroke-linejoin="miter"/>
<polygon points="282.25,55.58 289.15,55.58 285.7,49.58" fill="#00E0E0" stroke="#FF0000" stroke-width="1.15" stroke-linejoin="miter"/>
<polygon points="295.55,68.05 302.45,68.05 299,62.05" fill="#00E0E0" stroke="#FF0000" stroke-width="1.15" stroke-linejoin="miter"/>
<polygon points="310.6,83.26 317.5,83.26 314.05,77.26" fill="#00E0E0" stroke="#FF0000" stroke-width="1.15" stroke-linejoin="miter"/>
</g>
<circle cx="348.3" cy="33.6" r="3.0" fill="#F07800" stroke="#503000" stroke-width="0.9"/>
<rect x="345.7" y="45.3" width="5.2" height="5.2" fill="#00E000" stroke="#0000FF" stroke-width="1.0"/>
<polygon points="344.6,59.4 352,59.4 348.3,65.8" fill="#E888FF" stroke="#5020C0" stroke-width="1.0" stroke-linejoin="miter"/>
<polygon points="344.85,79.6 351.75,79.6 348.3,73.6" fill="#00E0E0" stroke="#FF0000" stroke-width="1.15" stroke-linejoin="miter"/>
<text x="364.6" y="37.8" font-size="12.1" text-anchor="start" >run No. 1</text>
<text x="364.6" y="52.2" font-size="12.1" text-anchor="start" >run No. 2</text>
<text x="364.6" y="66.6" font-size="12.1" text-anchor="start" >run No. 3</text>
<text x="364.6" y="81" font-size="12.1" text-anchor="start" >run No. 4</text>
<rect x="478.5" y="4.7" width="174" height="167.2" fill="none" stroke="#000" stroke-width="1.3"/>
<line x1="478.5" y1="171.9" x2="478.5" y2="166.4" stroke="#000" stroke-width="1.1" />
<line x1="478.5" y1="4.7" x2="478.5" y2="10.2" stroke="#000" stroke-width="1.1" />
<line x1="520" y1="171.9" x2="520" y2="166.4" stroke="#000" stroke-width="1.1" />
<line x1="520" y1="4.7" x2="520" y2="10.2" stroke="#000" stroke-width="1.1" />
<line x1="561.5" y1="171.9" x2="561.5" y2="166.4" stroke="#000" stroke-width="1.1" />
<line x1="561.5" y1="4.7" x2="561.5" y2="10.2" stroke="#000" stroke-width="1.1" />
<line x1="603" y1="171.9" x2="603" y2="166.4" stroke="#000" stroke-width="1.1" />
<line x1="603" y1="4.7" x2="603" y2="10.2" stroke="#000" stroke-width="1.1" />
<line x1="644.5" y1="171.9" x2="644.5" y2="166.4" stroke="#000" stroke-width="1.1" />
<line x1="644.5" y1="4.7" x2="644.5" y2="10.2" stroke="#000" stroke-width="1.1" />
<line x1="499.25" y1="171.9" x2="499.25" y2="168.9" stroke="#000" stroke-width="1.1" />
<line x1="499.25" y1="4.7" x2="499.25" y2="7.7" stroke="#000" stroke-width="1.1" />
<line x1="540.75" y1="171.9" x2="540.75" y2="168.9" stroke="#000" stroke-width="1.1" />
<line x1="540.75" y1="4.7" x2="540.75" y2="7.7" stroke="#000" stroke-width="1.1" />
<line x1="582.25" y1="171.9" x2="582.25" y2="168.9" stroke="#000" stroke-width="1.1" />
<line x1="582.25" y1="4.7" x2="582.25" y2="7.7" stroke="#000" stroke-width="1.1" />
<line x1="623.75" y1="171.9" x2="623.75" y2="168.9" stroke="#000" stroke-width="1.1" />
<line x1="623.75" y1="4.7" x2="623.75" y2="7.7" stroke="#000" stroke-width="1.1" />
<line x1="478.5" y1="171.9" x2="484" y2="171.9" stroke="#000" stroke-width="1.1" />
<line x1="478.5" y1="130.1" x2="484" y2="130.1" stroke="#000" stroke-width="1.1" />
<line x1="478.5" y1="88.3" x2="484" y2="88.3" stroke="#000" stroke-width="1.1" />
<line x1="478.5" y1="46.5" x2="484" y2="46.5" stroke="#000" stroke-width="1.1" />
<line x1="478.5" y1="4.7" x2="484" y2="4.7" stroke="#000" stroke-width="1.1" />
<line x1="478.5" y1="151" x2="481.5" y2="151" stroke="#000" stroke-width="1.1" />
<line x1="478.5" y1="109.2" x2="481.5" y2="109.2" stroke="#000" stroke-width="1.1" />
<line x1="478.5" y1="67.4" x2="481.5" y2="67.4" stroke="#000" stroke-width="1.1" />
<line x1="478.5" y1="25.6" x2="481.5" y2="25.6" stroke="#000" stroke-width="1.1" />
<line x1="652.5" y1="171.9" x2="647" y2="171.9" stroke="#000" stroke-width="1.1" />
<line x1="652.5" y1="139.75" x2="647" y2="139.75" stroke="#000" stroke-width="1.1" />
<line x1="652.5" y1="107.6" x2="647" y2="107.6" stroke="#000" stroke-width="1.1" />
<line x1="652.5" y1="75.45" x2="647" y2="75.45" stroke="#000" stroke-width="1.1" />
<line x1="652.5" y1="43.3" x2="647" y2="43.3" stroke="#000" stroke-width="1.1" />
<line x1="652.5" y1="11.15" x2="647" y2="11.15" stroke="#000" stroke-width="1.1" />
<line x1="652.5" y1="155.83" x2="649.5" y2="155.83" stroke="#000" stroke-width="1.1" />
<line x1="652.5" y1="123.68" x2="649.5" y2="123.68" stroke="#000" stroke-width="1.1" />
<line x1="652.5" y1="91.53" x2="649.5" y2="91.53" stroke="#000" stroke-width="1.1" />
<line x1="652.5" y1="59.38" x2="649.5" y2="59.38" stroke="#000" stroke-width="1.1" />
<line x1="652.5" y1="27.23" x2="649.5" y2="27.23" stroke="#000" stroke-width="1.1" />
<text x="478.5" y="188" font-size="11.7" text-anchor="middle" >0.0</text>
<text x="520" y="188" font-size="11.7" text-anchor="middle" >0.5</text>
<text x="561.5" y="188" font-size="11.7" text-anchor="middle" >1.0</text>
<text x="603" y="188" font-size="11.7" text-anchor="middle" >1.5</text>
<text x="644.5" y="188" font-size="11.7" text-anchor="middle" >2.0</text>
<text x="474.5" y="176" font-size="11.7" text-anchor="end" >1.6</text>
<text x="474.5" y="134.2" font-size="11.7" text-anchor="end" >1.8</text>
<text x="474.5" y="92.4" font-size="11.7" text-anchor="end" >2.0</text>
<text x="474.5" y="8.8" font-size="11.7" text-anchor="end" >2.4</text>
<text x="474.5" y="50.6" font-size="11.7" text-anchor="end" >2.2</text>
<text x="658.5" y="176" font-size="11.7" text-anchor="start" >25</text>
<text x="658.5" y="143.85" font-size="11.7" text-anchor="start" >30</text>
<text x="658.5" y="111.7" font-size="11.7" text-anchor="start" >35</text>
<text x="658.5" y="79.55" font-size="11.7" text-anchor="start" >40</text>
<text x="658.5" y="47.4" font-size="11.7" text-anchor="start" >45</text>
<text x="658.5" y="15.25" font-size="11.7" text-anchor="start" >50</text>
<text x="565.5" y="202" font-size="13" text-anchor="middle"><tspan font-style="italic">P</tspan> (GPa)</text>
<text transform="translate(447.6,88.4) rotate(-90)" font-size="14" text-anchor="middle"><tspan font-style="italic">&#956;</tspan><tspan font-size="9.2" dy="2.7">eff</tspan><tspan dy="-2.7"> (&#956;</tspan><tspan font-size="9.2" dy="2.7">B</tspan><tspan dy="-2.7">)</tspan></text>
<text transform="translate(675.5,91.3) rotate(90)" font-size="13" text-anchor="middle"><tspan font-style="italic">T</tspan> (K)</text>
<clipPath id="ce"><rect x="478.5" y="-1.3" width="174" height="173.2"/></clipPath>
<g clip-path="url(#ce)">
<line x1="474" y1="98.54" x2="483" y2="98.54" stroke="#7A7A7A" stroke-width="1.2" />
<line x1="474" y1="95.74" x2="474" y2="101.34" stroke="#7A7A7A" stroke-width="1.2" />
<line x1="483" y1="95.74" x2="483" y2="101.34" stroke="#7A7A7A" stroke-width="1.2" />
<line x1="478.5" y1="95.94" x2="478.5" y2="101.14" stroke="#7A7A7A" stroke-width="1.2" />
<line x1="475.7" y1="95.94" x2="481.3" y2="95.94" stroke="#7A7A7A" stroke-width="1.2" />
<line x1="475.7" y1="101.14" x2="481.3" y2="101.14" stroke="#7A7A7A" stroke-width="1.2" />
<line x1="494.75" y1="106.27" x2="503.75" y2="106.27" stroke="#7A7A7A" stroke-width="1.2" />
<line x1="494.75" y1="103.47" x2="494.75" y2="109.07" stroke="#7A7A7A" stroke-width="1.2" />
<line x1="503.75" y1="103.47" x2="503.75" y2="109.07" stroke="#7A7A7A" stroke-width="1.2" />
<line x1="499.25" y1="103.67" x2="499.25" y2="108.87" stroke="#7A7A7A" stroke-width="1.2" />
<line x1="496.45" y1="103.67" x2="502.05" y2="103.67" stroke="#7A7A7A" stroke-width="1.2" />
<line x1="496.45" y1="108.87" x2="502.05" y2="108.87" stroke="#7A7A7A" stroke-width="1.2" />
<line x1="527.95" y1="111.5" x2="536.95" y2="111.5" stroke="#7A7A7A" stroke-width="1.2" />
<line x1="527.95" y1="108.7" x2="527.95" y2="114.3" stroke="#7A7A7A" stroke-width="1.2" />
<line x1="536.95" y1="108.7" x2="536.95" y2="114.3" stroke="#7A7A7A" stroke-width="1.2" />
<line x1="532.45" y1="108.9" x2="532.45" y2="114.1" stroke="#7A7A7A" stroke-width="1.2" />
<line x1="529.65" y1="108.9" x2="535.25" y2="108.9" stroke="#7A7A7A" stroke-width="1.2" />
<line x1="529.65" y1="114.1" x2="535.25" y2="114.1" stroke="#7A7A7A" stroke-width="1.2" />
<line x1="566.96" y1="111.5" x2="575.96" y2="111.5" stroke="#7A7A7A" stroke-width="1.2" />
<line x1="566.96" y1="108.7" x2="566.96" y2="114.3" stroke="#7A7A7A" stroke-width="1.2" />
<line x1="575.96" y1="108.7" x2="575.96" y2="114.3" stroke="#7A7A7A" stroke-width="1.2" />
<line x1="571.46" y1="108.9" x2="571.46" y2="114.1" stroke="#7A7A7A" stroke-width="1.2" />
<line x1="568.66" y1="108.9" x2="574.26" y2="108.9" stroke="#7A7A7A" stroke-width="1.2" />
<line x1="568.66" y1="114.1" x2="574.26" y2="114.1" stroke="#7A7A7A" stroke-width="1.2" />
<line x1="598.5" y1="99.8" x2="607.5" y2="99.8" stroke="#7A7A7A" stroke-width="1.2" />
<line x1="598.5" y1="97" x2="598.5" y2="102.6" stroke="#7A7A7A" stroke-width="1.2" />
<line x1="607.5" y1="97" x2="607.5" y2="102.6" stroke="#7A7A7A" stroke-width="1.2" />
<line x1="603" y1="97.2" x2="603" y2="102.4" stroke="#7A7A7A" stroke-width="1.2" />
<line x1="600.2" y1="97.2" x2="605.8" y2="97.2" stroke="#7A7A7A" stroke-width="1.2" />
<line x1="600.2" y1="102.4" x2="605.8" y2="102.4" stroke="#7A7A7A" stroke-width="1.2" />
<line x1="634.19" y1="112.34" x2="643.19" y2="112.34" stroke="#7A7A7A" stroke-width="1.2" />
<line x1="634.19" y1="109.54" x2="634.19" y2="115.14" stroke="#7A7A7A" stroke-width="1.2" />
<line x1="643.19" y1="109.54" x2="643.19" y2="115.14" stroke="#7A7A7A" stroke-width="1.2" />
<line x1="638.69" y1="109.74" x2="638.69" y2="114.94" stroke="#7A7A7A" stroke-width="1.2" />
<line x1="635.89" y1="109.74" x2="641.49" y2="109.74" stroke="#7A7A7A" stroke-width="1.2" />
<line x1="635.89" y1="114.94" x2="641.49" y2="114.94" stroke="#7A7A7A" stroke-width="1.2" />
<circle cx="478.5" cy="98.54" r="3.2" fill="#000"/>
<circle cx="499.25" cy="106.27" r="3.2" fill="#000"/>
<circle cx="532.45" cy="111.5" r="3.2" fill="#000"/>
<circle cx="571.46" cy="111.5" r="3.2" fill="#000"/>
<circle cx="603" cy="99.8" r="3.2" fill="#000"/>
<circle cx="638.69" cy="112.34" r="3.2" fill="#000"/>
<line x1="474" y1="22.08" x2="483" y2="22.08" stroke="#2040FF" stroke-width="1.0" />
<line x1="474" y1="19.68" x2="474" y2="24.48" stroke="#2040FF" stroke-width="1.0" />
<line x1="483" y1="19.68" x2="483" y2="24.48" stroke="#2040FF" stroke-width="1.0" />
<line x1="478.5" y1="15.65" x2="478.5" y2="28.51" stroke="#2040FF" stroke-width="1.0" />
<line x1="476.1" y1="15.65" x2="480.9" y2="15.65" stroke="#2040FF" stroke-width="1.0" />
<line x1="476.1" y1="28.51" x2="480.9" y2="28.51" stroke="#2040FF" stroke-width="1.0" />
<line x1="494.75" y1="32.37" x2="503.75" y2="32.37" stroke="#2040FF" stroke-width="1.0" />
<line x1="494.75" y1="29.97" x2="494.75" y2="34.77" stroke="#2040FF" stroke-width="1.0" />
<line x1="503.75" y1="29.97" x2="503.75" y2="34.77" stroke="#2040FF" stroke-width="1.0" />
<line x1="499.25" y1="26.58" x2="499.25" y2="38.16" stroke="#2040FF" stroke-width="1.0" />
<line x1="496.85" y1="26.58" x2="501.65" y2="26.58" stroke="#2040FF" stroke-width="1.0" />
<line x1="496.85" y1="38.16" x2="501.65" y2="38.16" stroke="#2040FF" stroke-width="1.0" />
<line x1="527.95" y1="49.73" x2="536.95" y2="49.73" stroke="#2040FF" stroke-width="1.0" />
<line x1="527.95" y1="47.33" x2="527.95" y2="52.13" stroke="#2040FF" stroke-width="1.0" />
<line x1="536.95" y1="47.33" x2="536.95" y2="52.13" stroke="#2040FF" stroke-width="1.0" />
<line x1="532.45" y1="43.3" x2="532.45" y2="56.16" stroke="#2040FF" stroke-width="1.0" />
<line x1="530.05" y1="43.3" x2="534.85" y2="43.3" stroke="#2040FF" stroke-width="1.0" />
<line x1="530.05" y1="56.16" x2="534.85" y2="56.16" stroke="#2040FF" stroke-width="1.0" />
<line x1="566.96" y1="94.1" x2="575.96" y2="94.1" stroke="#2040FF" stroke-width="1.0" />
<line x1="566.96" y1="91.7" x2="566.96" y2="96.5" stroke="#2040FF" stroke-width="1.0" />
<line x1="575.96" y1="91.7" x2="575.96" y2="96.5" stroke="#2040FF" stroke-width="1.0" />
<line x1="571.46" y1="85.74" x2="571.46" y2="102.46" stroke="#2040FF" stroke-width="1.0" />
<line x1="569.06" y1="85.74" x2="573.86" y2="85.74" stroke="#2040FF" stroke-width="1.0" />
<line x1="569.06" y1="102.46" x2="573.86" y2="102.46" stroke="#2040FF" stroke-width="1.0" />
<line x1="598.5" y1="150.04" x2="607.5" y2="150.04" stroke="#2040FF" stroke-width="1.0" />
<line x1="598.5" y1="147.64" x2="598.5" y2="152.44" stroke="#2040FF" stroke-width="1.0" />
<line x1="607.5" y1="147.64" x2="607.5" y2="152.44" stroke="#2040FF" stroke-width="1.0" />
<line x1="603" y1="142.97" x2="603" y2="157.11" stroke="#2040FF" stroke-width="1.0" />
<line x1="600.6" y1="142.97" x2="605.4" y2="142.97" stroke="#2040FF" stroke-width="1.0" />
<line x1="600.6" y1="157.11" x2="605.4" y2="157.11" stroke="#2040FF" stroke-width="1.0" />
<line x1="634.19" y1="153.9" x2="643.19" y2="153.9" stroke="#2040FF" stroke-width="1.0" />
<line x1="634.19" y1="151.5" x2="634.19" y2="156.3" stroke="#2040FF" stroke-width="1.0" />
<line x1="643.19" y1="151.5" x2="643.19" y2="156.3" stroke="#2040FF" stroke-width="1.0" />
<line x1="638.69" y1="144.89" x2="638.69" y2="162.9" stroke="#2040FF" stroke-width="1.0" />
<line x1="636.29" y1="144.89" x2="641.09" y2="144.89" stroke="#2040FF" stroke-width="1.0" />
<line x1="636.29" y1="162.9" x2="641.09" y2="162.9" stroke="#2040FF" stroke-width="1.0" />
<rect x="475.7" y="19.28" width="5.6" height="5.6" fill="#0000FF"/>
<rect x="496.45" y="29.57" width="5.6" height="5.6" fill="#0000FF"/>
<rect x="529.65" y="46.93" width="5.6" height="5.6" fill="#0000FF"/>
<rect x="568.66" y="91.3" width="5.6" height="5.6" fill="#0000FF"/>
<rect x="600.2" y="147.24" width="5.6" height="5.6" fill="#0000FF"/>
<rect x="635.89" y="151.1" width="5.6" height="5.6" fill="#0000FF"/>
<polygon points="474.6,13.71 482.4,13.71 478.5,7.31" fill="#FFF" stroke="#FF0000" stroke-width="1.45" stroke-linejoin="miter"/>
<polygon points="495.35,25.92 503.15,25.92 499.25,19.52" fill="#FFF" stroke="#FF0000" stroke-width="1.45" stroke-linejoin="miter"/>
<polygon points="528.55,45.21 536.35,45.21 532.45,38.81" fill="#FFF" stroke="#FF0000" stroke-width="1.45" stroke-linejoin="miter"/>
<polygon points="567.56,84.44 575.36,84.44 571.46,78.04" fill="#FFF" stroke="#FF0000" stroke-width="1.45" stroke-linejoin="miter"/>
<polygon points="599.1,110.8 606.9,110.8 603,104.4" fill="#FFF" stroke="#FF0000" stroke-width="1.45" stroke-linejoin="miter"/>
<polygon points="634.79,142.95 642.59,142.95 638.69,136.55" fill="#FFF" stroke="#FF0000" stroke-width="1.45" stroke-linejoin="miter"/>
</g>
<ellipse cx="532.4" cy="48" rx="7.2" ry="11.8" fill="none" stroke="#000" stroke-width="1" stroke-dasharray="3,2"/>
<path d="M529.5,35.8 C528.5,33 532,32.5 531.5,30.5 C531,28.5 533,27.2 536.5,27.4" fill="none" stroke="#000" stroke-width="1"/>
<polygon points="536,24.8 545.2,27.3 536,29.7" fill="#000"/>
<path d="M497,97.4 C500.5,97.6 501.5,99.5 500.6,103" fill="none" stroke="#000" stroke-width="1"/>
<polygon points="497.2,95 488.3,97.9 497.2,99.6" fill="#000"/>
<rect x="592.4" y="18.3" width="5.9" height="5.9" fill="#0000FF"/>
<polygon points="591.15,43.3 599.85,43.3 595.5,35.9" fill="#FFF" stroke="#FF0000" stroke-width="1.5" stroke-linejoin="miter"/>
<text x="614.5" y="26" font-size="12.5" font-style="italic">&#920;</text><text x="624" y="28.8" font-size="8.8">CW</text>
<text x="615.5" y="44.5" font-size="12.5" font-style="italic">T</text><text x="624.2" y="48.3" font-size="8.8">N</text><text x="630.0" y="44.5" font-size="12.5">/2</text>
<text x="487.4" y="162.3" font-size="12.1" text-anchor="start" >run No. 4</text>
<clipPath id="cd"><rect x="246.2" y="232.1" width="173.8" height="167.2"/></clipPath>
<g clip-path="url(#cd)">
<g fill="#FF0000"><circle cx="247.24" cy="360.28" r="2.5"/><circle cx="248.11" cy="363.79" r="2.5"/><circle cx="249.1" cy="366.19" r="2.5"/><circle cx="250.26" cy="368.68" r="2.5"/><circle cx="251.59" cy="370.76" r="2.5"/><circle cx="253.15" cy="372.34" r="2.5"/><circle cx="254.89" cy="372.95" r="2.5"/><circle cx="256.63" cy="373.82" r="2.5"/><circle cx="258.37" cy="374.29" r="2.5"/><circle cx="259.52" cy="374.84" r="2.5"/><circle cx="260.68" cy="374.81" r="2.5"/><circle cx="261.84" cy="375.32" r="2.5"/><circle cx="263" cy="375.58" r="2.5"/><circle cx="264.16" cy="375.31" r="2.5"/><circle cx="265.32" cy="375.44" r="2.5"/><circle cx="266.48" cy="375.11" r="2.5"/><circle cx="267.63" cy="374.39" r="2.5"/><circle cx="268.79" cy="374.43" r="2.5"/><circle cx="269.95" cy="373.77" r="2.5"/><circle cx="271.11" cy="373.34" r="2.5"/><circle cx="272.27" cy="372.62" r="2.5"/><circle cx="273.43" cy="372.22" r="2.5"/><circle cx="274.59" cy="371.32" r="2.5"/><circle cx="275.74" cy="370.29" r="2.5"/><circle cx="276.9" cy="369.6" r="2.5"/><circle cx="278.06" cy="368.66" r="2.5"/><circle cx="279.22" cy="367.08" r="2.5"/><circle cx="280.38" cy="365.52" r="2.5"/><circle cx="281.54" cy="363.9" r="2.5"/><circle cx="282.7" cy="362.27" r="2.5"/><circle cx="283.85" cy="359.89" r="2.5"/><circle cx="285.01" cy="356.97" r="2.5"/><circle cx="286.17" cy="354.18" r="2.5"/><circle cx="287.33" cy="351.02" r="2.5"/><circle cx="288.49" cy="347.2" r="2.5"/><circle cx="289.65" cy="343.2" r="2.5"/><circle cx="290.81" cy="339.55" r="2.5"/><circle cx="291.96" cy="335" r="2.5"/><circle cx="293.12" cy="330.38" r="2.5"/><circle cx="294.28" cy="326.31" r="2.5"/><circle cx="295.44" cy="322.4" r="2.5"/><circle cx="296.6" cy="317.43" r="2.5"/><circle cx="297.76" cy="311.21" r="2.5"/><circle cx="298.92" cy="304.72" r="2.5"/><circle cx="300.07" cy="297.84" r="2.5"/><circle cx="301.23" cy="290.74" r="2.5"/><circle cx="302.39" cy="282.16" r="2.5"/><circle cx="303.55" cy="274.84" r="2.5"/><circle cx="304.59" cy="269.66" r="2.5"/><circle cx="305.4" cy="268.76" r="2.5"/><circle cx="306.22" cy="269.55" r="2.5"/><circle cx="307.03" cy="270.86" r="2.5"/><circle cx="307.84" cy="272.82" r="2.5"/><circle cx="308.65" cy="274.53" r="2.5"/><circle cx="309.46" cy="276.71" r="2.5"/><circle cx="310.27" cy="278.35" r="2.5"/><circle cx="311.08" cy="280.28" r="2.5"/><circle cx="311.89" cy="281.96" r="2.5"/><circle cx="312.7" cy="283.53" r="2.5"/><circle cx="313.51" cy="285.09" r="2.5"/><circle cx="314.33" cy="286.35" r="2.5"/><circle cx="315.14" cy="287.94" r="2.5"/><circle cx="315.95" cy="289" r="2.5"/><circle cx="316.76" cy="290.44" r="2.5"/><circle cx="317.57" cy="291.57" r="2.5"/><circle cx="318.38" cy="293.05" r="2.5"/><circle cx="319.19" cy="294.32" r="2.5"/><circle cx="320" cy="296.18" r="2.5"/><circle cx="322.44" cy="302.01" r="2.5"/><circle cx="324.87" cy="306.16" r="2.5"/><circle cx="327.3" cy="310.78" r="2.5"/><circle cx="329.74" cy="314.7" r="2.5"/><circle cx="332.17" cy="318.4" r="2.5"/><circle cx="334.6" cy="321.61" r="2.5"/><circle cx="337.03" cy="324.84" r="2.5"/><circle cx="339.47" cy="327.4" r="2.5"/><circle cx="341.9" cy="330.15" r="2.5"/><circle cx="344.33" cy="332.8" r="2.5"/><circle cx="346.77" cy="335.17" r="2.5"/><circle cx="349.2" cy="337.39" r="2.5"/><circle cx="351.63" cy="339.54" r="2.5"/><circle cx="354.07" cy="341.85" r="2.5"/><circle cx="356.5" cy="343.49" r="2.5"/><circle cx="358.93" cy="345.82" r="2.5"/><circle cx="361.36" cy="347.34" r="2.5"/><circle cx="363.8" cy="348.86" r="2.5"/><circle cx="366.23" cy="350.51" r="2.5"/><circle cx="368.66" cy="351.66" r="2.5"/><circle cx="371.1" cy="353.52" r="2.5"/><circle cx="373.53" cy="354.79" r="2.5"/><circle cx="375.96" cy="355.98" r="2.5"/><circle cx="378.4" cy="357.02" r="2.5"/><circle cx="380.83" cy="358.43" r="2.5"/><circle cx="383.26" cy="359.47" r="2.5"/><circle cx="385.7" cy="360.48" r="2.5"/><circle cx="388.13" cy="361.68" r="2.5"/><circle cx="390.56" cy="362.47" r="2.5"/><circle cx="392.99" cy="363.22" r="2.5"/><circle cx="395.43" cy="364.26" r="2.5"/><circle cx="397.86" cy="364.88" r="2.5"/><circle cx="400.29" cy="365.72" r="2.5"/><circle cx="402.73" cy="366.91" r="2.5"/><circle cx="405.16" cy="367.73" r="2.5"/><circle cx="407.59" cy="368.62" r="2.5"/><circle cx="410.03" cy="369.26" r="2.5"/><circle cx="412.46" cy="369.75" r="2.5"/><circle cx="414.89" cy="370.11" r="2.5"/><circle cx="417.33" cy="371.05" r="2.5"/><circle cx="419.76" cy="372" r="2.5"/><circle cx="419.99" cy="371.96" r="2.5"/></g>
<g fill="#00FF00"><circle cx="247.24" cy="357.44" r="2.5"/><circle cx="248.11" cy="361.51" r="2.5"/><circle cx="249.1" cy="364.58" r="2.5"/><circle cx="250.26" cy="367.36" r="2.5"/><circle cx="251.59" cy="369.38" r="2.5"/><circle cx="253.15" cy="371.68" r="2.5"/><circle cx="254.89" cy="372.81" r="2.5"/><circle cx="256.63" cy="373.45" r="2.5"/><circle cx="258.37" cy="374.34" r="2.5"/><circle cx="259.52" cy="374.39" r="2.5"/><circle cx="260.68" cy="374.76" r="2.5"/><circle cx="261.84" cy="375.33" r="2.5"/><circle cx="263" cy="375.4" r="2.5"/><circle cx="264.16" cy="375.27" r="2.5"/><circle cx="265.32" cy="375.01" r="2.5"/><circle cx="266.48" cy="375.07" r="2.5"/><circle cx="267.63" cy="375.02" r="2.5"/><circle cx="268.79" cy="374.35" r="2.5"/><circle cx="269.95" cy="373.62" r="2.5"/><circle cx="271.11" cy="373.01" r="2.5"/><circle cx="272.27" cy="372.37" r="2.5"/><circle cx="273.43" cy="372.32" r="2.5"/><circle cx="274.59" cy="371.35" r="2.5"/><circle cx="275.74" cy="370.77" r="2.5"/><circle cx="276.9" cy="369.31" r="2.5"/><circle cx="278.06" cy="367.93" r="2.5"/><circle cx="279.22" cy="366.3" r="2.5"/><circle cx="280.38" cy="364.24" r="2.5"/><circle cx="281.54" cy="361.38" r="2.5"/><circle cx="282.7" cy="358.33" r="2.5"/><circle cx="283.85" cy="355.69" r="2.5"/><circle cx="285.01" cy="351.75" r="2.5"/><circle cx="286.17" cy="347.95" r="2.5"/><circle cx="287.33" cy="343.03" r="2.5"/><circle cx="288.49" cy="338.74" r="2.5"/><circle cx="289.65" cy="333.98" r="2.5"/><circle cx="290.81" cy="328.71" r="2.5"/><circle cx="291.96" cy="322.94" r="2.5"/><circle cx="293.12" cy="317.25" r="2.5"/><circle cx="294.28" cy="309.53" r="2.5"/><circle cx="295.44" cy="300.39" r="2.5"/><circle cx="296.6" cy="292.29" r="2.5"/><circle cx="297.76" cy="286.78" r="2.5"/><circle cx="298.92" cy="281.37" r="2.5"/><circle cx="300.07" cy="277.03" r="2.5"/><circle cx="300.89" cy="273.62" r="2.5"/><circle cx="301.7" cy="272.85" r="2.5"/><circle cx="302.51" cy="273.48" r="2.5"/><circle cx="303.32" cy="274.62" r="2.5"/><circle cx="304.13" cy="275.64" r="2.5"/><circle cx="304.94" cy="277.03" r="2.5"/><circle cx="305.75" cy="278.21" r="2.5"/><circle cx="306.56" cy="279.32" r="2.5"/><circle cx="307.37" cy="280.78" r="2.5"/><circle cx="308.19" cy="282.44" r="2.5"/><circle cx="309" cy="284.65" r="2.5"/><circle cx="309.81" cy="286.37" r="2.5"/><circle cx="310.62" cy="287.24" r="2.5"/><circle cx="311.43" cy="288.39" r="2.5"/><circle cx="312.24" cy="289.67" r="2.5"/><circle cx="313.05" cy="290.44" r="2.5"/><circle cx="313.86" cy="290.84" r="2.5"/><circle cx="314.67" cy="291.73" r="2.5"/><circle cx="315.48" cy="293" r="2.5"/><circle cx="316.3" cy="294.81" r="2.5"/><circle cx="318.38" cy="300.29" r="2.5"/><circle cx="320.47" cy="305.68" r="2.5"/><circle cx="322.55" cy="309.87" r="2.5"/><circle cx="324.64" cy="314.09" r="2.5"/><circle cx="326.72" cy="317.45" r="2.5"/><circle cx="328.81" cy="321.42" r="2.5"/><circle cx="330.89" cy="324.48" r="2.5"/><circle cx="332.98" cy="327.18" r="2.5"/><circle cx="335.06" cy="330.4" r="2.5"/><circle cx="337.15" cy="332.83" r="2.5"/><circle cx="339.24" cy="335.37" r="2.5"/><circle cx="341.32" cy="337.11" r="2.5"/><circle cx="343.41" cy="339.28" r="2.5"/><circle cx="345.49" cy="341.8" r="2.5"/><circle cx="347.58" cy="343.42" r="2.5"/><circle cx="349.66" cy="345.38" r="2.5"/><circle cx="351.75" cy="346.85" r="2.5"/><circle cx="353.83" cy="349.06" r="2.5"/><circle cx="355.92" cy="350.28" r="2.5"/><circle cx="358" cy="351.99" r="2.5"/><circle cx="360.09" cy="352.87" r="2.5"/><circle cx="362.18" cy="354.49" r="2.5"/><circle cx="364.26" cy="355.48" r="2.5"/><circle cx="366.35" cy="357.27" r="2.5"/><circle cx="368.43" cy="358.14" r="2.5"/><circle cx="370.52" cy="358.99" r="2.5"/><circle cx="372.6" cy="360.07" r="2.5"/><circle cx="374.69" cy="361.42" r="2.5"/><circle cx="376.77" cy="362.08" r="2.5"/><circle cx="378.86" cy="363.11" r="2.5"/><circle cx="380.95" cy="364.2" r="2.5"/><circle cx="383.03" cy="365.12" r="2.5"/><circle cx="385.12" cy="366.02" r="2.5"/><circle cx="387.2" cy="366.86" r="2.5"/><circle cx="389.29" cy="367.47" r="2.5"/><circle cx="391.37" cy="368.4" r="2.5"/><circle cx="393.46" cy="368.81" r="2.5"/><circle cx="395.54" cy="369.6" r="2.5"/><circle cx="397.63" cy="370.65" r="2.5"/><circle cx="399.71" cy="370.86" r="2.5"/><circle cx="401.8" cy="371.55" r="2.5"/><circle cx="403.89" cy="372.18" r="2.5"/><circle cx="405.97" cy="372.94" r="2.5"/><circle cx="408.06" cy="373.19" r="2.5"/><circle cx="410.14" cy="373.77" r="2.5"/><circle cx="412.23" cy="374.62" r="2.5"/><circle cx="414.31" cy="374.94" r="2.5"/><circle cx="416.4" cy="375.82" r="2.5"/><circle cx="418.48" cy="376.4" r="2.5"/><circle cx="419.99" cy="376.6" r="2.5"/></g>
<g fill="#0000FF"><circle cx="247.24" cy="355.73" r="2.5"/><circle cx="248.11" cy="360.36" r="2.5"/><circle cx="249.1" cy="363.58" r="2.5"/><circle cx="250.26" cy="366.59" r="2.5"/><circle cx="251.59" cy="368.78" r="2.5"/><circle cx="253.15" cy="370.98" r="2.5"/><circle cx="254.89" cy="372.1" r="2.5"/><circle cx="256.63" cy="373.15" r="2.5"/><circle cx="258.37" cy="374.25" r="2.5"/><circle cx="259.52" cy="374.16" r="2.5"/><circle cx="260.68" cy="374.53" r="2.5"/><circle cx="261.84" cy="375.1" r="2.5"/><circle cx="263" cy="374.76" r="2.5"/><circle cx="264.16" cy="374.65" r="2.5"/><circle cx="265.32" cy="374.8" r="2.5"/><circle cx="266.48" cy="374.31" r="2.5"/><circle cx="267.63" cy="373.91" r="2.5"/><circle cx="268.79" cy="373.13" r="2.5"/><circle cx="269.95" cy="373.01" r="2.5"/><circle cx="271.11" cy="372.33" r="2.5"/><circle cx="272.27" cy="372.05" r="2.5"/><circle cx="273.43" cy="371.84" r="2.5"/><circle cx="274.59" cy="370.77" r="2.5"/><circle cx="275.74" cy="370.19" r="2.5"/><circle cx="276.9" cy="369.73" r="2.5"/><circle cx="278.06" cy="368.49" r="2.5"/><circle cx="279.22" cy="366.31" r="2.5"/><circle cx="280.38" cy="363.22" r="2.5"/><circle cx="281.54" cy="359.39" r="2.5"/><circle cx="282.7" cy="355.66" r="2.5"/><circle cx="283.85" cy="351.9" r="2.5"/><circle cx="285.01" cy="346.58" r="2.5"/><circle cx="286.17" cy="341.32" r="2.5"/><circle cx="287.33" cy="334.05" r="2.5"/><circle cx="288.49" cy="326.45" r="2.5"/><circle cx="289.65" cy="318.01" r="2.5"/><circle cx="290.81" cy="310.56" r="2.5"/><circle cx="291.96" cy="302.51" r="2.5"/><circle cx="293.12" cy="294.08" r="2.5"/><circle cx="294.28" cy="286.97" r="2.5"/><circle cx="295.44" cy="280.82" r="2.5"/><circle cx="296.6" cy="276.55" r="2.5"/><circle cx="297.47" cy="273.68" r="2.5"/><circle cx="298.28" cy="272.82" r="2.5"/><circle cx="299.09" cy="273.38" r="2.5"/><circle cx="299.9" cy="274.65" r="2.5"/><circle cx="300.71" cy="276.1" r="2.5"/><circle cx="301.52" cy="276.7" r="2.5"/><circle cx="302.33" cy="277.57" r="2.5"/><circle cx="303.15" cy="279.32" r="2.5"/><circle cx="303.96" cy="280.68" r="2.5"/><circle cx="304.77" cy="282.66" r="2.5"/><circle cx="305.58" cy="284.27" r="2.5"/><circle cx="306.39" cy="286" r="2.5"/><circle cx="307.2" cy="287.45" r="2.5"/><circle cx="308.01" cy="288.59" r="2.5"/><circle cx="308.82" cy="290.05" r="2.5"/><circle cx="309.63" cy="290.85" r="2.5"/><circle cx="310.44" cy="291.92" r="2.5"/><circle cx="311.26" cy="293.1" r="2.5"/><circle cx="312.07" cy="293.99" r="2.5"/><circle cx="312.88" cy="296.24" r="2.5"/><circle cx="314.73" cy="301.15" r="2.5"/><circle cx="316.58" cy="305.25" r="2.5"/><circle cx="318.44" cy="309.24" r="2.5"/><circle cx="320.29" cy="312.59" r="2.5"/><circle cx="322.15" cy="316.47" r="2.5"/><circle cx="324" cy="319.25" r="2.5"/><circle cx="325.85" cy="322.5" r="2.5"/><circle cx="327.71" cy="325.02" r="2.5"/><circle cx="329.56" cy="327.63" r="2.5"/><circle cx="331.42" cy="330.49" r="2.5"/><circle cx="333.27" cy="332.76" r="2.5"/><circle cx="335.12" cy="335.11" r="2.5"/><circle cx="336.98" cy="337.29" r="2.5"/><circle cx="338.83" cy="339.42" r="2.5"/><circle cx="340.68" cy="340.69" r="2.5"/><circle cx="342.54" cy="342.87" r="2.5"/><circle cx="344.39" cy="344.54" r="2.5"/><circle cx="346.25" cy="346.23" r="2.5"/><circle cx="348.1" cy="347.71" r="2.5"/><circle cx="349.95" cy="349.21" r="2.5"/><circle cx="351.81" cy="350.85" r="2.5"/><circle cx="353.66" cy="351.92" r="2.5"/><circle cx="355.51" cy="353.28" r="2.5"/><circle cx="357.37" cy="354.64" r="2.5"/><circle cx="359.22" cy="355.42" r="2.5"/><circle cx="361.08" cy="356.81" r="2.5"/><circle cx="362.93" cy="357.69" r="2.5"/><circle cx="364.78" cy="358.78" r="2.5"/><circle cx="366.64" cy="359.71" r="2.5"/><circle cx="368.49" cy="360.84" r="2.5"/><circle cx="370.34" cy="361.8" r="2.5"/><circle cx="372.2" cy="362.93" r="2.5"/><circle cx="374.05" cy="363.86" r="2.5"/><circle cx="375.91" cy="364.89" r="2.5"/><circle cx="377.76" cy="365.48" r="2.5"/><circle cx="379.61" cy="366.57" r="2.5"/><circle cx="381.47" cy="366.99" r="2.5"/><circle cx="383.32" cy="367.99" r="2.5"/><circle cx="385.17" cy="368.58" r="2.5"/><circle cx="387.03" cy="369.33" r="2.5"/><circle cx="388.88" cy="369.77" r="2.5"/><circle cx="390.74" cy="370.9" r="2.5"/><circle cx="392.59" cy="371.42" r="2.5"/><circle cx="394.44" cy="371.61" r="2.5"/><circle cx="396.3" cy="372.49" r="2.5"/><circle cx="398.15" cy="373.4" r="2.5"/><circle cx="400" cy="373.31" r="2.5"/><circle cx="401.86" cy="374.04" r="2.5"/><circle cx="403.71" cy="374.89" r="2.5"/><circle cx="405.57" cy="374.93" r="2.5"/><circle cx="407.42" cy="375.93" r="2.5"/><circle cx="409.27" cy="376.31" r="2.5"/><circle cx="411.13" cy="376.91" r="2.5"/><circle cx="412.98" cy="377.26" r="2.5"/><circle cx="414.83" cy="377.99" r="2.5"/><circle cx="416.69" cy="378.03" r="2.5"/><circle cx="418.54" cy="378.62" r="2.5"/><circle cx="419.99" cy="378.59" r="2.5"/></g>
<g fill="#808000"><circle cx="247.24" cy="353.77" r="2.5"/><circle cx="248.11" cy="358.44" r="2.5"/><circle cx="249.1" cy="362.62" r="2.5"/><circle cx="250.26" cy="365.88" r="2.5"/><circle cx="251.59" cy="367.74" r="2.5"/><circle cx="253.15" cy="369.69" r="2.5"/><circle cx="254.89" cy="371.15" r="2.5"/><circle cx="256.63" cy="372.12" r="2.5"/><circle cx="258.37" cy="372.98" r="2.5"/><circle cx="259.52" cy="373.08" r="2.5"/><circle cx="260.68" cy="373.23" r="2.5"/><circle cx="261.84" cy="373.24" r="2.5"/><circle cx="263" cy="372.83" r="2.5"/><circle cx="264.16" cy="372.88" r="2.5"/><circle cx="265.32" cy="373.01" r="2.5"/><circle cx="266.48" cy="372.55" r="2.5"/><circle cx="267.63" cy="372.03" r="2.5"/><circle cx="268.79" cy="371.34" r="2.5"/><circle cx="269.95" cy="371.31" r="2.5"/><circle cx="271.11" cy="370.31" r="2.5"/><circle cx="272.27" cy="369.62" r="2.5"/><circle cx="273.43" cy="368.05" r="2.5"/><circle cx="274.59" cy="366.18" r="2.5"/><circle cx="275.74" cy="363.7" r="2.5"/><circle cx="276.9" cy="360.7" r="2.5"/><circle cx="278.06" cy="355.93" r="2.5"/><circle cx="279.22" cy="349.81" r="2.5"/><circle cx="280.38" cy="340.16" r="2.5"/><circle cx="281.54" cy="331.02" r="2.5"/><circle cx="282.7" cy="321.82" r="2.5"/><circle cx="283.85" cy="315.75" r="2.5"/><circle cx="285.01" cy="308.78" r="2.5"/><circle cx="286.17" cy="298.7" r="2.5"/><circle cx="287.33" cy="290.4" r="2.5"/><circle cx="288.49" cy="283.25" r="2.5"/><circle cx="289.65" cy="277.11" r="2.5"/><circle cx="290.81" cy="273.03" r="2.5"/><circle cx="291.15" cy="271.24" r="2.5"/><circle cx="291.96" cy="270.93" r="2.5"/><circle cx="292.78" cy="271.51" r="2.5"/><circle cx="293.59" cy="272.92" r="2.5"/><circle cx="294.4" cy="274.76" r="2.5"/><circle cx="295.21" cy="275.99" r="2.5"/><circle cx="296.02" cy="277.86" r="2.5"/><circle cx="296.83" cy="279.27" r="2.5"/><circle cx="297.64" cy="281.34" r="2.5"/><circle cx="298.45" cy="282.97" r="2.5"/><circle cx="299.26" cy="284.52" r="2.5"/><circle cx="300.07" cy="285.83" r="2.5"/><circle cx="300.89" cy="287.43" r="2.5"/><circle cx="301.7" cy="288.65" r="2.5"/><circle cx="302.51" cy="289.44" r="2.5"/><circle cx="303.32" cy="290.46" r="2.5"/><circle cx="304.13" cy="291.09" r="2.5"/><circle cx="304.94" cy="292.29" r="2.5"/><circle cx="305.75" cy="293.55" r="2.5"/><circle cx="306.56" cy="295.38" r="2.5"/><circle cx="308.19" cy="299.78" r="2.5"/><circle cx="309.81" cy="303.72" r="2.5"/><circle cx="311.43" cy="307.04" r="2.5"/><circle cx="313.05" cy="310.38" r="2.5"/><circle cx="314.67" cy="313.8" r="2.5"/><circle cx="316.3" cy="316.39" r="2.5"/><circle cx="317.92" cy="319.43" r="2.5"/><circle cx="319.54" cy="322.24" r="2.5"/><circle cx="321.16" cy="324.69" r="2.5"/><circle cx="322.78" cy="326.79" r="2.5"/><circle cx="324.41" cy="328.87" r="2.5"/><circle cx="326.03" cy="331.22" r="2.5"/><circle cx="327.65" cy="333.3" r="2.5"/><circle cx="329.27" cy="335.13" r="2.5"/><circle cx="330.89" cy="336.86" r="2.5"/><circle cx="332.52" cy="338.71" r="2.5"/><circle cx="334.14" cy="340.14" r="2.5"/><circle cx="335.76" cy="341.9" r="2.5"/><circle cx="337.38" cy="343.36" r="2.5"/><circle cx="339" cy="345.21" r="2.5"/><circle cx="340.63" cy="346.85" r="2.5"/><circle cx="342.25" cy="347.66" r="2.5"/><circle cx="343.87" cy="348.89" r="2.5"/><circle cx="345.49" cy="350.66" r="2.5"/><circle cx="347.11" cy="351.61" r="2.5"/><circle cx="348.74" cy="352.9" r="2.5"/><circle cx="350.36" cy="353.73" r="2.5"/><circle cx="351.98" cy="354.91" r="2.5"/><circle cx="353.6" cy="356.33" r="2.5"/><circle cx="355.22" cy="357.29" r="2.5"/><circle cx="356.85" cy="358.45" r="2.5"/><circle cx="358.47" cy="359.49" r="2.5"/><circle cx="360.09" cy="359.99" r="2.5"/><circle cx="361.71" cy="361.07" r="2.5"/><circle cx="363.33" cy="361.82" r="2.5"/><circle cx="364.96" cy="362.7" r="2.5"/><circle cx="366.58" cy="363.44" r="2.5"/><circle cx="368.2" cy="364.64" r="2.5"/><circle cx="369.82" cy="365.16" r="2.5"/><circle cx="371.44" cy="365.57" r="2.5"/><circle cx="373.07" cy="366.69" r="2.5"/><circle cx="374.69" cy="367.58" r="2.5"/><circle cx="376.31" cy="368.22" r="2.5"/><circle cx="377.93" cy="368.65" r="2.5"/><circle cx="379.55" cy="368.91" r="2.5"/><circle cx="381.18" cy="370.1" r="2.5"/><circle cx="382.8" cy="370.8" r="2.5"/><circle cx="384.42" cy="371.26" r="2.5"/><circle cx="386.04" cy="371.63" r="2.5"/><circle cx="387.67" cy="372.17" r="2.5"/><circle cx="389.29" cy="372.98" r="2.5"/><circle cx="390.91" cy="373.07" r="2.5"/><circle cx="392.53" cy="374.07" r="2.5"/><circle cx="394.15" cy="374.39" r="2.5"/><circle cx="395.78" cy="374.59" r="2.5"/><circle cx="397.4" cy="375.61" r="2.5"/><circle cx="399.02" cy="375.79" r="2.5"/><circle cx="400.64" cy="376.05" r="2.5"/><circle cx="402.26" cy="376.56" r="2.5"/><circle cx="403.89" cy="377.49" r="2.5"/><circle cx="405.51" cy="377.44" r="2.5"/><circle cx="407.13" cy="378.3" r="2.5"/><circle cx="408.75" cy="378.73" r="2.5"/><circle cx="410.37" cy="378.64" r="2.5"/><circle cx="412" cy="379.28" r="2.5"/><circle cx="413.62" cy="379.92" r="2.5"/><circle cx="415.24" cy="380.1" r="2.5"/><circle cx="416.86" cy="380.74" r="2.5"/><circle cx="418.48" cy="380.77" r="2.5"/><circle cx="419.99" cy="381.28" r="2.5"/></g>
<g fill="#000080"><circle cx="247.24" cy="348.32" r="2.5"/><circle cx="248.11" cy="354.67" r="2.5"/><circle cx="249.1" cy="359.12" r="2.5"/><circle cx="250.26" cy="362.64" r="2.5"/><circle cx="251.59" cy="365.33" r="2.5"/><circle cx="253.15" cy="367.84" r="2.5"/><circle cx="254.89" cy="369.69" r="2.5"/><circle cx="256.63" cy="370.49" r="2.5"/><circle cx="258.37" cy="371.04" r="2.5"/><circle cx="259.52" cy="370.88" r="2.5"/><circle cx="260.68" cy="370.92" r="2.5"/><circle cx="261.84" cy="370.86" r="2.5"/><circle cx="263" cy="370.91" r="2.5"/><circle cx="264.16" cy="369.87" r="2.5"/><circle cx="265.32" cy="369.15" r="2.5"/><circle cx="266.48" cy="368.19" r="2.5"/><circle cx="267.63" cy="366.56" r="2.5"/><circle cx="268.79" cy="364.45" r="2.5"/><circle cx="269.95" cy="361.86" r="2.5"/><circle cx="271.11" cy="358.42" r="2.5"/><circle cx="272.27" cy="353.72" r="2.5"/><circle cx="273.43" cy="348.39" r="2.5"/><circle cx="274.59" cy="343.01" r="2.5"/><circle cx="275.74" cy="336.93" r="2.5"/><circle cx="276.9" cy="331.75" r="2.5"/><circle cx="278.06" cy="326.45" r="2.5"/><circle cx="279.22" cy="317.3" r="2.5"/><circle cx="280.38" cy="308.82" r="2.5"/><circle cx="281.54" cy="298.67" r="2.5"/><circle cx="282.7" cy="290.63" r="2.5"/><circle cx="283.85" cy="281.49" r="2.5"/><circle cx="285.01" cy="275.22" r="2.5"/><circle cx="286.17" cy="271.48" r="2.5"/><circle cx="286.29" cy="271.47" r="2.5"/><circle cx="287.1" cy="270.94" r="2.5"/><circle cx="287.91" cy="271.74" r="2.5"/><circle cx="288.72" cy="272.69" r="2.5"/><circle cx="289.53" cy="274.69" r="2.5"/><circle cx="290.34" cy="275.7" r="2.5"/><circle cx="291.15" cy="277.83" r="2.5"/><circle cx="291.96" cy="279.6" r="2.5"/><circle cx="292.78" cy="280.75" r="2.5"/><circle cx="293.59" cy="282.71" r="2.5"/><circle cx="294.4" cy="284.51" r="2.5"/><circle cx="295.21" cy="285.76" r="2.5"/><circle cx="296.02" cy="287.32" r="2.5"/><circle cx="296.83" cy="288.54" r="2.5"/><circle cx="297.64" cy="289.81" r="2.5"/><circle cx="298.45" cy="290.92" r="2.5"/><circle cx="299.26" cy="292.2" r="2.5"/><circle cx="300.07" cy="293.8" r="2.5"/><circle cx="300.89" cy="295.24" r="2.5"/><circle cx="301.7" cy="297.1" r="2.5"/><circle cx="303.32" cy="301.26" r="2.5"/><circle cx="304.94" cy="305.23" r="2.5"/><circle cx="306.56" cy="308.29" r="2.5"/><circle cx="308.19" cy="311.87" r="2.5"/><circle cx="309.81" cy="314.6" r="2.5"/><circle cx="311.43" cy="317.86" r="2.5"/><circle cx="313.05" cy="320.87" r="2.5"/><circle cx="314.67" cy="323.23" r="2.5"/><circle cx="316.3" cy="325.59" r="2.5"/><circle cx="317.92" cy="327.93" r="2.5"/><circle cx="319.54" cy="330.26" r="2.5"/><circle cx="321.16" cy="332.75" r="2.5"/><circle cx="322.78" cy="334.82" r="2.5"/><circle cx="324.41" cy="336.6" r="2.5"/><circle cx="326.03" cy="338.62" r="2.5"/><circle cx="327.65" cy="340.23" r="2.5"/><circle cx="329.27" cy="341.58" r="2.5"/><circle cx="330.89" cy="343.31" r="2.5"/><circle cx="332.52" cy="345.06" r="2.5"/><circle cx="334.14" cy="346.54" r="2.5"/><circle cx="335.76" cy="347.95" r="2.5"/><circle cx="337.38" cy="349.19" r="2.5"/><circle cx="339" cy="350.27" r="2.5"/><circle cx="340.63" cy="352.11" r="2.5"/><circle cx="342.25" cy="352.82" r="2.5"/><circle cx="343.87" cy="354.53" r="2.5"/><circle cx="345.49" cy="355.08" r="2.5"/><circle cx="347.11" cy="356.77" r="2.5"/><circle cx="348.74" cy="357.41" r="2.5"/><circle cx="350.36" cy="358.74" r="2.5"/><circle cx="351.98" cy="359.17" r="2.5"/><circle cx="353.6" cy="360.43" r="2.5"/><circle cx="355.22" cy="361.22" r="2.5"/><circle cx="356.85" cy="362.43" r="2.5"/><circle cx="358.47" cy="363.28" r="2.5"/><circle cx="360.09" cy="363.99" r="2.5"/><circle cx="361.71" cy="364.98" r="2.5"/><circle cx="363.33" cy="365.96" r="2.5"/><circle cx="364.96" cy="366.11" r="2.5"/><circle cx="366.58" cy="367.19" r="2.5"/><circle cx="368.2" cy="368" r="2.5"/><circle cx="369.82" cy="368.67" r="2.5"/><circle cx="371.44" cy="369.1" r="2.5"/><circle cx="373.07" cy="370.2" r="2.5"/><circle cx="374.69" cy="370.41" r="2.5"/><circle cx="376.31" cy="371.46" r="2.5"/><circle cx="377.93" cy="371.82" r="2.5"/><circle cx="379.55" cy="372.19" r="2.5"/><circle cx="381.18" cy="373.25" r="2.5"/><circle cx="382.8" cy="373.3" r="2.5"/><circle cx="384.42" cy="374.36" r="2.5"/><circle cx="386.04" cy="374.77" r="2.5"/><circle cx="387.67" cy="375.49" r="2.5"/><circle cx="389.29" cy="375.95" r="2.5"/><circle cx="390.91" cy="376.18" r="2.5"/><circle cx="392.53" cy="376.48" r="2.5"/><circle cx="394.15" cy="377.06" r="2.5"/><circle cx="395.78" cy="377.34" r="2.5"/><circle cx="397.4" cy="378.26" r="2.5"/><circle cx="399.02" cy="378.31" r="2.5"/><circle cx="400.64" cy="378.82" r="2.5"/><circle cx="402.26" cy="379.29" r="2.5"/><circle cx="403.89" cy="379.82" r="2.5"/><circle cx="405.51" cy="380.43" r="2.5"/><circle cx="407.13" cy="380.67" r="2.5"/><circle cx="408.75" cy="381.1" r="2.5"/><circle cx="410.37" cy="381.2" r="2.5"/><circle cx="412" cy="381.75" r="2.5"/><circle cx="413.62" cy="382.03" r="2.5"/><circle cx="415.24" cy="382.76" r="2.5"/><circle cx="416.86" cy="382.61" r="2.5"/><circle cx="418.48" cy="383.38" r="2.5"/><circle cx="419.99" cy="383.76" r="2.5"/></g>
<g fill="#FF80FF"><circle cx="249.21" cy="346.48" r="2.5"/><circle cx="250.31" cy="356.76" r="2.5"/><circle cx="251.82" cy="361.37" r="2.5"/><circle cx="253.9" cy="365.08" r="2.5"/><circle cx="256.51" cy="367.33" r="2.5"/><circle cx="258.37" cy="367.63" r="2.5"/><circle cx="259.52" cy="368.2" r="2.5"/><circle cx="260.68" cy="367.94" r="2.5"/><circle cx="261.84" cy="367.52" r="2.5"/><circle cx="263" cy="366.49" r="2.5"/><circle cx="264.16" cy="362.24" r="2.5"/><circle cx="265.32" cy="357.52" r="2.5"/><circle cx="266.48" cy="352.26" r="2.5"/><circle cx="267.63" cy="347.88" r="2.5"/><circle cx="268.79" cy="344.21" r="2.5"/><circle cx="269.95" cy="337.77" r="2.5"/><circle cx="271.11" cy="330.33" r="2.5"/><circle cx="272.27" cy="322.53" r="2.5"/><circle cx="273.43" cy="314.25" r="2.5"/><circle cx="274.59" cy="305.57" r="2.5"/><circle cx="275.74" cy="294.74" r="2.5"/><circle cx="276.9" cy="284.16" r="2.5"/><circle cx="278.06" cy="276.19" r="2.5"/><circle cx="279.22" cy="272.12" r="2.5"/><circle cx="280.03" cy="270.5" r="2.5"/><circle cx="280.84" cy="270.44" r="2.5"/><circle cx="281.65" cy="271.52" r="2.5"/><circle cx="282.46" cy="273.48" r="2.5"/><circle cx="283.28" cy="274.83" r="2.5"/><circle cx="284.09" cy="275.89" r="2.5"/><circle cx="284.9" cy="277.06" r="2.5"/><circle cx="285.71" cy="278.91" r="2.5"/><circle cx="286.52" cy="280.2" r="2.5"/><circle cx="287.33" cy="281.92" r="2.5"/><circle cx="288.14" cy="283.23" r="2.5"/><circle cx="288.95" cy="284.91" r="2.5"/><circle cx="289.76" cy="286.78" r="2.5"/><circle cx="290.57" cy="288.69" r="2.5"/><circle cx="291.39" cy="290.11" r="2.5"/><circle cx="292.2" cy="292.41" r="2.5"/><circle cx="293.01" cy="294.31" r="2.5"/><circle cx="293.82" cy="296" r="2.5"/><circle cx="294.63" cy="297.79" r="2.5"/><circle cx="295.44" cy="299.09" r="2.5"/><circle cx="296.6" cy="301.3" r="2.5"/><circle cx="297.76" cy="303.72" r="2.5"/><circle cx="298.92" cy="305.87" r="2.5"/><circle cx="300.07" cy="308.46" r="2.5"/><circle cx="301.23" cy="311.14" r="2.5"/><circle cx="302.39" cy="313.22" r="2.5"/><circle cx="303.55" cy="315.91" r="2.5"/><circle cx="304.71" cy="317.75" r="2.5"/><circle cx="305.87" cy="319.54" r="2.5"/><circle cx="307.03" cy="321.8" r="2.5"/><circle cx="308.19" cy="323.53" r="2.5"/><circle cx="309.34" cy="325.26" r="2.5"/><circle cx="310.5" cy="327.14" r="2.5"/><circle cx="311.66" cy="329.17" r="2.5"/><circle cx="312.82" cy="330.64" r="2.5"/><circle cx="313.98" cy="331.91" r="2.5"/><circle cx="315.14" cy="333.89" r="2.5"/><circle cx="316.3" cy="334.86" r="2.5"/><circle cx="317.45" cy="336.47" r="2.5"/><circle cx="318.61" cy="337.85" r="2.5"/><circle cx="319.77" cy="339.64" r="2.5"/><circle cx="320.93" cy="340.28" r="2.5"/><circle cx="320.93" cy="341.83" r="2.5"/><circle cx="322.09" cy="342.02" r="2.5"/><circle cx="322.09" cy="343.12" r="2.5"/><circle cx="323.25" cy="343.18" r="2.5"/><circle cx="323.25" cy="344.37" r="2.5"/><circle cx="324.41" cy="344.15" r="2.5"/><circle cx="324.41" cy="345.59" r="2.5"/><circle cx="325.56" cy="345.67" r="2.5"/><circle cx="325.56" cy="346.77" r="2.5"/><circle cx="326.72" cy="346.94" r="2.5"/><circle cx="326.72" cy="347.93" r="2.5"/><circle cx="327.88" cy="348.04" r="2.5"/><circle cx="327.88" cy="349.05" r="2.5"/><circle cx="329.04" cy="348.65" r="2.5"/><circle cx="329.04" cy="350.14" r="2.5"/><circle cx="330.2" cy="350.22" r="2.5"/><circle cx="330.2" cy="351.21" r="2.5"/><circle cx="331.36" cy="350.94" r="2.5"/><circle cx="331.36" cy="352.25" r="2.5"/><circle cx="332.52" cy="352.31" r="2.5"/><circle cx="332.52" cy="353.26" r="2.5"/><circle cx="333.67" cy="353.09" r="2.5"/><circle cx="333.67" cy="354.25" r="2.5"/><circle cx="334.83" cy="353.72" r="2.5"/><circle cx="334.83" cy="355.21" r="2.5"/><circle cx="335.99" cy="355.13" r="2.5"/><circle cx="335.99" cy="356.15" r="2.5"/><circle cx="337.15" cy="355.92" r="2.5"/><circle cx="337.15" cy="357.07" r="2.5"/><circle cx="338.31" cy="356.73" r="2.5"/><circle cx="338.31" cy="357.97" r="2.5"/><circle cx="339.47" cy="357.74" r="2.5"/><circle cx="339.47" cy="358.84" r="2.5"/><circle cx="340.63" cy="358.46" r="2.5"/><circle cx="340.63" cy="359.7" r="2.5"/><circle cx="341.78" cy="359.01" r="2.5"/><circle cx="341.78" cy="360.54" r="2.5"/><circle cx="342.94" cy="360.44" r="2.5"/><circle cx="342.94" cy="361.35" r="2.5"/><circle cx="344.1" cy="360.8" r="2.5"/><circle cx="344.1" cy="362.15" r="2.5"/><circle cx="345.26" cy="361.58" r="2.5"/><circle cx="345.26" cy="362.93" r="2.5"/><circle cx="346.42" cy="362.18" r="2.5"/><circle cx="346.42" cy="363.7" r="2.5"/><circle cx="347.58" cy="363.4" r="2.5"/><circle cx="347.58" cy="364.45" r="2.5"/><circle cx="348.74" cy="364.27" r="2.5"/><circle cx="348.74" cy="365.18" r="2.5"/><circle cx="349.89" cy="364.67" r="2.5"/><circle cx="349.89" cy="365.9" r="2.5"/><circle cx="351.05" cy="365.62" r="2.5"/><circle cx="351.05" cy="366.6" r="2.5"/><circle cx="352.21" cy="365.97" r="2.5"/><circle cx="352.21" cy="367.29" r="2.5"/><circle cx="353.37" cy="366.68" r="2.5"/><circle cx="353.37" cy="367.96" r="2.5"/><circle cx="354.53" cy="367.27" r="2.5"/><circle cx="354.53" cy="368.62" r="2.5"/><circle cx="355.69" cy="367.92" r="2.5"/><circle cx="355.69" cy="369.26" r="2.5"/><circle cx="356.85" cy="368.74" r="2.5"/><circle cx="356.85" cy="369.9" r="2.5"/><circle cx="358" cy="369.2" r="2.5"/><circle cx="358" cy="370.52" r="2.5"/><circle cx="359.16" cy="369.62" r="2.5"/><circle cx="359.16" cy="371.13" r="2.5"/><circle cx="360.32" cy="370.66" r="2.5"/><circle cx="360.32" cy="371.73" r="2.5"/><circle cx="361.48" cy="370.98" r="2.5"/><circle cx="361.48" cy="372.31" r="2.5"/><circle cx="362.64" cy="371.61" r="2.5"/><circle cx="362.64" cy="372.89" r="2.5"/><circle cx="363.8" cy="372.03" r="2.5"/><circle cx="363.8" cy="373.45" r="2.5"/><circle cx="364.96" cy="372.49" r="2.5"/><circle cx="364.96" cy="374.01" r="2.5"/><circle cx="366.12" cy="373.46" r="2.5"/><circle cx="366.12" cy="374.55" r="2.5"/><circle cx="367.27" cy="373.83" r="2.5"/><circle cx="367.27" cy="375.08" r="2.5"/><circle cx="368.43" cy="374.71" r="2.5"/><circle cx="368.43" cy="375.61" r="2.5"/><circle cx="369.59" cy="374.59" r="2.5"/><circle cx="369.59" cy="376.12" r="2.5"/><circle cx="370.75" cy="375.65" r="2.5"/><circle cx="370.75" cy="376.63" r="2.5"/><circle cx="371.91" cy="375.59" r="2.5"/><circle cx="371.91" cy="377.12" r="2.5"/><circle cx="373.07" cy="376.18" r="2.5"/><circle cx="373.07" cy="377.61" r="2.5"/><circle cx="374.23" cy="376.55" r="2.5"/><circle cx="374.23" cy="378.09" r="2.5"/><circle cx="375.38" cy="377.37" r="2.5"/><circle cx="375.38" cy="378.56" r="2.5"/><circle cx="376.54" cy="377.72" r="2.5"/><circle cx="376.54" cy="379.03" r="2.5"/><circle cx="377.7" cy="378.16" r="2.5"/><circle cx="377.7" cy="379.48" r="2.5"/><circle cx="378.86" cy="379.06" r="2.5"/><circle cx="378.86" cy="379.93" r="2.5"/><circle cx="380.02" cy="379.23" r="2.5"/><circle cx="380.02" cy="380.37" r="2.5"/><circle cx="381.18" cy="379.9" r="2.5"/><circle cx="381.18" cy="380.81" r="2.5"/><circle cx="382.34" cy="380.3" r="2.5"/><circle cx="382.34" cy="381.23" r="2.5"/><circle cx="383.49" cy="380.34" r="2.5"/><circle cx="383.49" cy="381.65" r="2.5"/><circle cx="384.65" cy="380.97" r="2.5"/><circle cx="384.65" cy="382.06" r="2.5"/><circle cx="385.81" cy="381.06" r="2.5"/><circle cx="385.81" cy="382.47" r="2.5"/><circle cx="386.97" cy="381.58" r="2.5"/><circle cx="386.97" cy="382.87" r="2.5"/><circle cx="388.13" cy="382.19" r="2.5"/><circle cx="388.13" cy="383.26" r="2.5"/><circle cx="389.29" cy="382.5" r="2.5"/><circle cx="389.29" cy="383.65" r="2.5"/><circle cx="390.45" cy="382.54" r="2.5"/><circle cx="390.45" cy="384.03" r="2.5"/><circle cx="391.6" cy="382.91" r="2.5"/><circle cx="391.6" cy="384.41" r="2.5"/><circle cx="392.76" cy="383.77" r="2.5"/><circle cx="392.76" cy="384.78" r="2.5"/><circle cx="393.92" cy="384.08" r="2.5"/><circle cx="393.92" cy="385.14" r="2.5"/><circle cx="395.08" cy="384.41" r="2.5"/><circle cx="396.24" cy="384.46" r="2.5"/><circle cx="397.4" cy="385.2" r="2.5"/><circle cx="398.56" cy="385.4" r="2.5"/><circle cx="399.71" cy="385.44" r="2.5"/><circle cx="400.87" cy="385.79" r="2.5"/><circle cx="402.03" cy="386.43" r="2.5"/><circle cx="403.19" cy="387.01" r="2.5"/><circle cx="404.35" cy="387.05" r="2.5"/><circle cx="405.51" cy="387.16" r="2.5"/><circle cx="406.67" cy="387.77" r="2.5"/><circle cx="407.82" cy="387.72" r="2.5"/><circle cx="408.98" cy="388.33" r="2.5"/><circle cx="410.14" cy="388.46" r="2.5"/><circle cx="411.3" cy="388.49" r="2.5"/><circle cx="412.46" cy="389.12" r="2.5"/><circle cx="413.62" cy="389.4" r="2.5"/><circle cx="414.78" cy="389.97" r="2.5"/><circle cx="415.93" cy="390.1" r="2.5"/><circle cx="417.09" cy="390.09" r="2.5"/><circle cx="418.25" cy="390.6" r="2.5"/><circle cx="419.41" cy="390.6" r="2.5"/><circle cx="419.99" cy="391.01" r="2.5"/></g>
<polyline points="310.5,327.43 311.66,329.12 312.82,330.76 313.98,332.35 315.14,333.89 316.3,335.38 317.45,336.83 318.61,338.24 319.77,339.6 320.93,340.93 322.09,342.22 323.25,343.47 324.41,344.69 325.56,345.87 326.72,347.03 327.88,348.15 329.04,349.24 330.2,350.31 331.36,351.35 332.52,352.36 333.67,353.35 334.83,354.31 335.99,355.25 337.15,356.17 338.31,357.07 339.47,357.94 340.63,358.8 341.78,359.64 342.94,360.45 344.1,361.25 345.26,362.03 346.42,362.8 347.58,363.55 348.74,364.28 349.89,365 351.05,365.7 352.21,366.39 353.37,367.06 354.53,367.72 355.69,368.36 356.85,369 358,369.62 359.16,370.23 360.32,370.83 361.48,371.41 362.64,371.99 363.8,372.55 364.96,373.11 366.12,373.65 367.27,374.18 368.43,374.71 369.59,375.22 370.75,375.73 371.91,376.22 373.07,376.71 374.23,377.19 375.38,377.66 376.54,378.13 377.7,378.58 378.86,379.03 380.02,379.47 381.18,379.91 382.34,380.33 383.49,380.75 384.65,381.16 385.81,381.57 386.97,381.97 388.13,382.36 389.29,382.75 390.45,383.13 391.6,383.51 392.76,383.88 393.92,384.24 395.08,384.6 396.24,384.96 397.4,385.3 398.56,385.65 399.71,385.99 400.87,386.32 402.03,386.65 403.19,386.97 404.35,387.29 405.51,387.61 406.67,387.92 407.82,388.22 408.98,388.53 410.14,388.83 411.3,389.12 412.46,389.41 413.62,389.7 414.78,389.98 415.93,390.26 417.09,390.53 418.25,390.8 419.41,391.07 419.99,391.2" fill="none" stroke="#000" stroke-width="1.1" stroke-dasharray="3.2,2.6"/>
</g>
<rect x="246.2" y="232.1" width="173.8" height="167.2" fill="none" stroke="#000" stroke-width="1.3"/>
<line x1="246.2" y1="399.3" x2="246.2" y2="393.8" stroke="#000" stroke-width="1.1" />
<line x1="246.2" y1="232.1" x2="246.2" y2="237.6" stroke="#000" stroke-width="1.1" />
<line x1="304.13" y1="399.3" x2="304.13" y2="393.8" stroke="#000" stroke-width="1.1" />
<line x1="304.13" y1="232.1" x2="304.13" y2="237.6" stroke="#000" stroke-width="1.1" />
<line x1="362.06" y1="399.3" x2="362.06" y2="393.8" stroke="#000" stroke-width="1.1" />
<line x1="362.06" y1="232.1" x2="362.06" y2="237.6" stroke="#000" stroke-width="1.1" />
<line x1="419.99" y1="399.3" x2="419.99" y2="393.8" stroke="#000" stroke-width="1.1" />
<line x1="419.99" y1="232.1" x2="419.99" y2="237.6" stroke="#000" stroke-width="1.1" />
<line x1="275.16" y1="399.3" x2="275.16" y2="396.3" stroke="#000" stroke-width="1.1" />
<line x1="275.16" y1="232.1" x2="275.16" y2="235.1" stroke="#000" stroke-width="1.1" />
<line x1="333.1" y1="399.3" x2="333.1" y2="396.3" stroke="#000" stroke-width="1.1" />
<line x1="333.1" y1="232.1" x2="333.1" y2="235.1" stroke="#000" stroke-width="1.1" />
<line x1="391.02" y1="399.3" x2="391.02" y2="396.3" stroke="#000" stroke-width="1.1" />
<line x1="391.02" y1="232.1" x2="391.02" y2="235.1" stroke="#000" stroke-width="1.1" />
<line x1="246.2" y1="399.3" x2="251.7" y2="399.3" stroke="#000" stroke-width="1.1" />
<line x1="246.2" y1="362.1" x2="251.7" y2="362.1" stroke="#000" stroke-width="1.1" />
<line x1="246.2" y1="324.9" x2="251.7" y2="324.9" stroke="#000" stroke-width="1.1" />
<line x1="246.2" y1="287.7" x2="251.7" y2="287.7" stroke="#000" stroke-width="1.1" />
<line x1="246.2" y1="250.5" x2="251.7" y2="250.5" stroke="#000" stroke-width="1.1" />
<line x1="246.2" y1="380.7" x2="249.2" y2="380.7" stroke="#000" stroke-width="1.1" />
<line x1="246.2" y1="343.5" x2="249.2" y2="343.5" stroke="#000" stroke-width="1.1" />
<line x1="246.2" y1="306.3" x2="249.2" y2="306.3" stroke="#000" stroke-width="1.1" />
<line x1="246.2" y1="269.1" x2="249.2" y2="269.1" stroke="#000" stroke-width="1.1" />
<line x1="420" y1="399.3" x2="414.5" y2="399.3" stroke="#000" stroke-width="1.1" />
<line x1="420" y1="362.1" x2="414.5" y2="362.1" stroke="#000" stroke-width="1.1" />
<line x1="420" y1="324.9" x2="414.5" y2="324.9" stroke="#000" stroke-width="1.1" />
<line x1="420" y1="287.7" x2="414.5" y2="287.7" stroke="#000" stroke-width="1.1" />
<line x1="420" y1="250.5" x2="414.5" y2="250.5" stroke="#000" stroke-width="1.1" />
<line x1="420" y1="380.7" x2="417" y2="380.7" stroke="#000" stroke-width="1.1" />
<line x1="420" y1="343.5" x2="417" y2="343.5" stroke="#000" stroke-width="1.1" />
<line x1="420" y1="306.3" x2="417" y2="306.3" stroke="#000" stroke-width="1.1" />
<line x1="420" y1="269.1" x2="417" y2="269.1" stroke="#000" stroke-width="1.1" />
<text x="246.2" y="415.2" font-size="11.7" text-anchor="middle" >0</text>
<text x="304.13" y="415.2" font-size="11.7" text-anchor="middle" >100</text>
<text x="362.06" y="415.2" font-size="11.7" text-anchor="middle" >200</text>
<text x="419.99" y="415.2" font-size="11.7" text-anchor="middle" >300</text>
<text x="239.5" y="403.4" font-size="11.7" text-anchor="end" >0</text>
<text x="239.5" y="366.2" font-size="11.7" text-anchor="end" >2</text>
<text x="239.5" y="329" font-size="11.7" text-anchor="end" >4</text>
<text x="239.5" y="291.8" font-size="11.7" text-anchor="end" >6</text>
<text x="239.5" y="254.6" font-size="11.7" text-anchor="end" >8</text>
<text x="333.1" y="428.5" font-size="13" text-anchor="middle"><tspan font-style="italic">T</tspan> (K)</text>
<text transform="translate(227.1,315.6) rotate(-90)" font-size="13.2" text-anchor="middle"><tspan font-style="italic" font-family="Liberation Serif" font-size="14.4">&#967;</tspan> (&#215;10<tspan font-size="9.3" dy="-4.7">-3</tspan><tspan dy="4.7"> emu mol</tspan><tspan font-size="9.3" dy="-4.7">-1</tspan><tspan dy="4.7">)</tspan></text>
<line x1="305.1" y1="247" x2="305.1" y2="255" stroke="#000" stroke-width="1.1" />
<polygon points="302.6,253.5 307.6,253.5 305.1,263.6" fill="#000"/>
<text x="306.5" y="250.1" font-size="13" font-style="italic">T</text><text x="314.3" y="253.9" font-size="8.8">N</text>
<text x="365.5" y="251.9" font-size="12"><tspan font-style="italic">P</tspan> (GPa)</text>
<circle cx="371.3" cy="261.3" r="2.6" fill="#FF0000"/>
<text x="381.4" y="265.5" font-size="12.1" text-anchor="start" >0</text>
<circle cx="371.3" cy="275.85" r="2.6" fill="#00FF00"/>
<text x="381.4" y="280.05" font-size="12.1" text-anchor="start" >0.25</text>
<circle cx="371.3" cy="290.4" r="2.6" fill="#0000FF"/>
<text x="381.4" y="294.6" font-size="12.1" text-anchor="start" >0.65</text>
<circle cx="371.3" cy="304.95" r="2.6" fill="#808000"/>
<text x="381.4" y="309.15" font-size="12.1" text-anchor="start" >1.12</text>
<circle cx="371.3" cy="319.5" r="2.6" fill="#000080"/>
<text x="381.4" y="323.7" font-size="12.1" text-anchor="start" >1.50</text>
<circle cx="371.3" cy="334.05" r="2.6" fill="#FF80FF"/>
<text x="381.4" y="338.25" font-size="12.1" text-anchor="start" >1.93</text>
<text x="252.4" y="390.3" font-size="12.1" text-anchor="start" >run No. 4</text>
<clipPath id="cf"><rect x="478.7" y="231.4" width="173.9" height="167.2"/></clipPath>
<g clip-path="url(#cf)">
<polyline points="496,331 496.55,330.8 497.3,330.54 498.18,330.23 499.16,329.88 500.18,329.52 501.2,329.16 502.15,328.81 503,328.5 503.76,328.23 504.48,327.98 505.17,327.74 505.84,327.51 506.49,327.27 507.13,327.01 507.76,326.73 508.4,326.4 509.03,326.04 509.66,325.67 510.27,325.28 510.88,324.86 511.47,324.42 512.06,323.95 512.63,323.44 513.2,322.9 513.76,322.32 514.31,321.7 514.85,321.05 515.38,320.37 515.9,319.66 516.41,318.93 516.91,318.17 517.4,317.4 517.87,316.61 518.32,315.79 518.76,314.95 519.19,314.08 519.62,313.19 520.04,312.28 520.47,311.35 520.9,310.4 521.34,309.41 521.79,308.36 522.24,307.29 522.69,306.19 523.14,305.1 523.57,304.03 524,302.99 524.4,302 524.79,301.09 525.17,300.24 525.53,299.44 525.89,298.66 526.23,297.86 526.57,297.01 526.89,296.11 527.2,295.1 527.5,293.96 527.77,292.69 528.03,291.34 528.29,289.96 528.54,288.59 528.78,287.28 529.04,286.06 529.3,285 529.57,284.06 529.85,283.2 530.13,282.42 530.41,281.7 530.69,281.05 530.97,280.47 531.24,279.96 531.5,279.5 531.75,279.12 531.99,278.83 532.23,278.6 532.46,278.44 532.69,278.33 532.92,278.26 533.15,278.22 533.4,278.2 533.64,278.2 533.88,278.23 534.11,278.31 534.35,278.41 534.6,278.56 534.87,278.73 535.17,278.95 535.5,279.2 535.86,279.49 536.23,279.81 536.62,280.17 537.03,280.56 537.47,280.99 537.94,281.46 538.45,281.96 539,282.5 539.6,283.09 540.25,283.72 540.95,284.4 541.67,285.11 542.42,285.85 543.16,286.6 543.89,287.35 544.6,288.1 545.29,288.86 545.98,289.66 546.67,290.48 547.35,291.3 548.03,292.12 548.72,292.91 549.41,293.68 550.1,294.4 550.8,295.07 551.49,295.69 552.19,296.29 552.89,296.86 553.6,297.43 554.3,298 555,298.59 555.7,299.2 556.37,299.82 556.99,300.43 557.58,301.04 558.19,301.66 558.84,302.31 559.56,302.99 560.37,303.71 561.3,304.5 562.38,305.37 563.59,306.34 564.89,307.36 566.26,308.41 567.67,309.46 569.08,310.47 570.47,311.43 571.8,312.3 573.09,313.09 574.36,313.82 575.63,314.51 576.89,315.16 578.16,315.78 579.43,316.37 580.71,316.94 582,317.5 583.31,318.03 584.63,318.52 585.95,318.98 587.29,319.43 588.62,319.85 589.95,320.27 591.28,320.68 592.6,321.1 593.91,321.53 595.21,321.95 596.51,322.37 597.81,322.78 599.1,323.18 600.4,323.57 601.7,323.95 603,324.3 604.28,324.63 605.52,324.94 606.75,325.22 607.99,325.5 609.27,325.77 610.59,326.04 612,326.31 613.5,326.6 615.12,326.9 616.85,327.22 618.66,327.55 620.52,327.87 622.41,328.18 624.3,328.48 626.17,328.76 628,329 629.89,329.22 631.9,329.41 633.97,329.59 636.01,329.75 637.93,329.89 639.66,330.01 641.11,330.12 642.2,330.2" fill="none" stroke="#000000" stroke-width="5.2" stroke-linecap="round" stroke-linejoin="round"/>
<polyline points="497.5,329 497.65,328.9 497.83,328.79 498.05,328.66 498.29,328.51 498.57,328.33 498.86,328.12 499.17,327.88 499.5,327.6 499.86,327.29 500.26,326.96 500.7,326.6 501.14,326.21 501.59,325.79 502.03,325.33 502.44,324.84 502.8,324.3 503.12,323.72 503.41,323.09 503.68,322.43 503.92,321.72 504.17,321 504.4,320.25 504.65,319.48 504.9,318.7 505.16,317.91 505.42,317.1 505.69,316.27 505.95,315.43 506.21,314.55 506.47,313.66 506.74,312.74 507,311.8 507.26,310.83 507.53,309.84 507.79,308.82 508.06,307.77 508.32,306.71 508.58,305.63 508.84,304.52 509.1,303.4 509.35,302.24 509.6,301.02 509.84,299.77 510.09,298.51 510.33,297.25 510.58,296.01 510.84,294.83 511.1,293.7 511.37,292.61 511.65,291.53 511.93,290.48 512.21,289.46 512.5,288.48 512.8,287.58 513.1,286.74 513.4,286 513.71,285.35 514.03,284.77 514.36,284.26 514.69,283.81 515.02,283.43 515.35,283.1 515.68,282.83 516,282.6 516.31,282.43 516.6,282.32 516.89,282.27 517.17,282.28 517.47,282.33 517.79,282.42 518.13,282.54 518.5,282.7 518.9,282.88 519.32,283.1 519.75,283.36 520.21,283.66 520.69,284 521.19,284.38 521.73,284.81 522.3,285.3 522.91,285.85 523.58,286.46 524.27,287.12 524.99,287.83 525.73,288.57 526.46,289.33 527.19,290.11 527.9,290.9 528.59,291.71 529.28,292.57 529.97,293.45 530.65,294.35 531.33,295.26 532.02,296.16 532.71,297.04 533.4,297.9 534.09,298.74 534.76,299.57 535.43,300.39 536.11,301.21 536.79,302.01 537.5,302.79 538.23,303.56 539,304.3 539.81,305.02 540.65,305.73 541.53,306.43 542.42,307.1 543.32,307.76 544.22,308.39 545.12,309.01 546,309.6 546.87,310.16 547.73,310.7 548.59,311.21 549.44,311.71 550.3,312.19 551.16,312.66 552.03,313.13 552.9,313.6 553.75,314.07 554.55,314.52 555.34,314.96 556.14,315.39 556.98,315.83 557.89,316.27 558.89,316.73 560,317.2 561.26,317.69 562.66,318.21 564.15,318.74 565.71,319.27 567.29,319.8 568.85,320.32 570.37,320.82 571.8,321.3 573.15,321.75 574.45,322.19 575.72,322.61 576.97,323.03 578.22,323.43 579.46,323.82 580.72,324.21 582,324.6 583.31,324.98 584.63,325.36 585.95,325.73 587.29,326.1 588.62,326.46 589.95,326.81 591.28,327.16 592.6,327.5 593.91,327.84 595.21,328.17 596.51,328.5 597.81,328.82 599.1,329.13 600.4,329.43 601.7,329.72 603,330 604.28,330.26 605.52,330.5 606.75,330.73 607.99,330.94 609.27,331.16 610.59,331.37 612,331.58 613.5,331.8 615.12,332.03 616.85,332.26 618.66,332.5 620.52,332.73 622.41,332.96 624.3,333.19 626.17,333.4 628,333.6 629.89,333.8 631.9,333.99 633.97,334.18 636.01,334.36 637.93,334.53 639.66,334.68 641.11,334.8 642.2,334.9" fill="none" stroke="#FF0000" stroke-width="5.2" stroke-linecap="round" stroke-linejoin="round"/>
<polyline points="480.8,326.5 480.96,326.22 481.15,325.86 481.38,325.45 481.64,324.97 481.94,324.43 482.26,323.84 482.62,323.19 483,322.5 483.42,321.73 483.9,320.87 484.42,319.94 484.96,318.97 485.51,317.97 486.06,316.96 486.59,315.96 487.1,315 487.58,314.06 488.05,313.1 488.51,312.14 488.97,311.19 489.42,310.24 489.88,309.3 490.34,308.39 490.8,307.5 491.27,306.63 491.74,305.79 492.21,304.96 492.69,304.14 493.16,303.34 493.64,302.55 494.12,301.77 494.6,301 495.08,300.24 495.57,299.5 496.07,298.78 496.56,298.06 497.06,297.35 497.54,296.64 498.03,295.93 498.5,295.2 498.97,294.44 499.44,293.65 499.9,292.84 500.36,292.03 500.81,291.25 501.26,290.52 501.69,289.87 502.1,289.3 502.5,288.83 502.9,288.43 503.28,288.09 503.65,287.81 504.01,287.57 504.35,287.36 504.69,287.18 505,287 505.29,286.84 505.55,286.72 505.79,286.63 506.02,286.56 506.25,286.52 506.49,286.5 506.73,286.49 507,286.5 507.29,286.52 507.58,286.57 507.88,286.64 508.19,286.72 508.5,286.82 508.83,286.93 509.16,287.06 509.5,287.2 509.83,287.33 510.15,287.44 510.47,287.56 510.81,287.69 511.16,287.87 511.56,288.1 512,288.4 512.5,288.8 513.07,289.3 513.68,289.89 514.35,290.55 515.05,291.27 515.78,292.03 516.54,292.81 517.32,293.61 518.1,294.4 518.91,295.2 519.75,296.03 520.63,296.89 521.52,297.76 522.42,298.65 523.32,299.54 524.22,300.42 525.1,301.3 525.97,302.18 526.83,303.08 527.69,303.99 528.55,304.89 529.41,305.79 530.27,306.66 531.13,307.5 532,308.3 532.87,309.06 533.74,309.8 534.62,310.52 535.49,311.21 536.37,311.87 537.25,312.51 538.12,313.12 539,313.7 539.88,314.25 540.75,314.77 541.62,315.26 542.5,315.72 543.38,316.17 544.25,316.59 545.12,317 546,317.4 546.88,317.78 547.75,318.13 548.62,318.47 549.5,318.79 550.38,319.1 551.25,319.4 552.12,319.7 553,320 553.84,320.29 554.64,320.55 555.41,320.8 556.2,321.04 557.02,321.3 557.91,321.59 558.9,321.92 560,322.3 561.26,322.75 562.65,323.26 564.14,323.81 565.7,324.38 567.28,324.97 568.85,325.54 570.37,326.09 571.8,326.6 573.15,327.07 574.45,327.51 575.72,327.93 576.97,328.34 578.22,328.74 579.46,329.15 580.72,329.57 582,330 583.31,330.45 584.63,330.92 585.95,331.4 587.29,331.88 588.62,332.36 589.95,332.82 591.28,333.27 592.6,333.7 593.91,334.11 595.21,334.5 596.51,334.88 597.81,335.24 599.1,335.6 600.4,335.94 601.7,336.28 603,336.6 604.28,336.91 605.52,337.19 606.75,337.46 607.99,337.73 609.27,337.98 610.59,338.25 612,338.52 613.5,338.8 615.13,339.1 616.87,339.43 618.69,339.76 620.56,340.09 622.46,340.42 624.35,340.74 626.21,341.03 628,341.3 629.83,341.55 631.76,341.78 633.73,342 635.66,342.21 637.47,342.39 639.1,342.55 640.47,342.69 641.5,342.8" fill="none" stroke="#00FF00" stroke-width="5.2" stroke-linecap="round" stroke-linejoin="round"/>
<polyline points="480.5,301 480.65,301.35 480.84,301.83 481.07,302.4 481.32,303.03 481.6,303.69 481.9,304.34 482.2,304.95 482.5,305.5 482.81,306.03 483.15,306.59 483.5,307.15 483.86,307.69 484.22,308.17 484.59,308.57 484.95,308.86 485.3,309 485.64,308.98 485.98,308.81 486.32,308.52 486.65,308.16 486.98,307.74 487.32,307.3 487.66,306.88 488,306.5 488.34,306.16 488.67,305.83 489,305.49 489.34,305.14 489.68,304.77 490.03,304.38 490.41,303.96 490.8,303.5 491.22,302.99 491.65,302.42 492.11,301.82 492.58,301.2 493.05,300.57 493.53,299.95 494.02,299.36 494.5,298.8 494.99,298.27 495.48,297.74 495.98,297.23 496.48,296.73 496.99,296.25 497.49,295.8 498,295.38 498.5,295 499.01,294.65 499.52,294.33 500.04,294.04 500.56,293.78 501.07,293.54 501.56,293.33 502.04,293.15 502.5,293 502.93,292.88 503.34,292.8 503.74,292.74 504.12,292.71 504.49,292.71 504.86,292.72 505.23,292.76 505.6,292.8 505.97,292.86 506.35,292.94 506.72,293.04 507.08,293.16 507.44,293.3 507.8,293.45 508.15,293.62 508.5,293.8 508.81,293.97 509.07,294.13 509.3,294.29 509.54,294.48 509.82,294.7 510.15,294.98 510.57,295.34 511.1,295.8 511.76,296.37 512.54,297.04 513.4,297.78 514.33,298.59 515.28,299.43 516.25,300.3 517.19,301.16 518.1,302 518.98,302.85 519.85,303.73 520.73,304.63 521.61,305.54 522.48,306.44 523.36,307.33 524.23,308.19 525.1,309 525.97,309.78 526.83,310.53 527.69,311.27 528.55,311.98 529.41,312.67 530.27,313.34 531.13,313.98 532,314.6 532.87,315.19 533.74,315.74 534.62,316.27 535.49,316.78 536.37,317.27 537.25,317.75 538.12,318.23 539,318.7 539.88,319.17 540.75,319.65 541.62,320.11 542.5,320.56 543.38,321 544.25,321.42 545.12,321.82 546,322.2 546.88,322.55 547.75,322.86 548.62,323.16 549.5,323.44 550.38,323.7 551.25,323.97 552.12,324.23 553,324.5 553.88,324.75 554.76,324.97 555.65,325.18 556.53,325.39 557.41,325.62 558.29,325.88 559.15,326.2 560,326.6 560.82,327.09 561.61,327.67 562.39,328.32 563.16,328.99 563.94,329.68 564.75,330.34 565.6,330.96 566.5,331.5 567.46,331.96 568.46,332.36 569.49,332.73 570.55,333.07 571.64,333.4 572.74,333.74 573.87,334.1 575,334.5 576.19,334.95 577.44,335.45 578.74,335.97 580.05,336.49 581.33,337.01 582.56,337.49 583.69,337.93 584.7,338.3 585.59,338.6 586.38,338.83 587.09,339.02 587.74,339.18 588.34,339.32 588.9,339.46 589.45,339.62 590,339.8 590.52,339.99 590.99,340.16 591.42,340.33 591.83,340.51 592.23,340.71 592.63,340.93 593.05,341.19 593.5,341.5 593.97,341.88 594.43,342.35 594.9,342.86 595.38,343.39 595.87,343.92 596.38,344.41 596.92,344.85 597.5,345.2 598.09,345.46 598.69,345.64 599.29,345.77 599.93,345.86 600.61,345.94 601.34,346.03 602.13,346.14 603,346.3 603.96,346.5 605,346.73 606.11,346.98 607.28,347.23 608.47,347.49 609.68,347.74 610.9,347.98 612.1,348.2 613.28,348.4 614.46,348.6 615.64,348.78 616.84,348.96 618.06,349.13 619.32,349.3 620.63,349.45 622,349.6 623.52,349.74 625.24,349.88 627.05,350.01 628.87,350.14 630.61,350.25 632.19,350.35 633.52,350.43 634.5,350.5" fill="none" stroke="#0000FF" stroke-width="5.2" stroke-linecap="round" stroke-linejoin="round"/>
<polyline points="489,315.1 489.44,314.73 490.03,314.22 490.74,313.62 491.52,312.96 492.34,312.27 493.15,311.61 493.92,311.01 494.6,310.5 495.22,310.08 495.82,309.7 496.4,309.35 496.96,309.04 497.51,308.75 498.03,308.48 498.53,308.24 499,308 499.44,307.78 499.85,307.59 500.23,307.42 500.59,307.26 500.94,307.13 501.29,307.01 501.64,306.9 502,306.8 502.37,306.71 502.73,306.62 503.09,306.55 503.44,306.49 503.8,306.46 504.16,306.44 504.53,306.45 504.9,306.5 505.26,306.58 505.6,306.68 505.92,306.81 506.26,306.97 506.62,307.15 507.02,307.35 507.48,307.56 508,307.8 508.6,308.06 509.27,308.34 510,308.65 510.76,308.98 511.55,309.32 512.35,309.68 513.13,310.04 513.9,310.4 514.64,310.77 515.37,311.14 516.09,311.53 516.83,311.92 517.57,312.33 518.34,312.74 519.15,313.17 520,313.6 520.91,314.05 521.89,314.52 522.91,315 523.95,315.49 524.99,315.98 526.01,316.46 526.99,316.94 527.9,317.4 528.74,317.84 529.51,318.28 530.24,318.7 530.96,319.12 531.67,319.54 532.4,319.95 533.17,320.37 534,320.8 534.91,321.24 535.89,321.7 536.91,322.16 537.96,322.62 538.99,323.07 539.99,323.51 540.94,323.92 541.8,324.3 542.57,324.65 543.27,324.96 543.91,325.26 544.52,325.54 545.11,325.8 545.71,326.07 546.33,326.33 547,326.6 547.71,326.85 548.46,327.08 549.22,327.29 549.99,327.5 550.76,327.73 551.51,328 552.22,328.31 552.9,328.7 553.56,329.2 554.23,329.8 554.89,330.48 555.52,331.18 556.1,331.87 556.62,332.49 557.06,333.02 557.4,333.4" fill="none" stroke="#808000" stroke-width="5.2" stroke-linecap="round" stroke-linejoin="round"/>
<polyline points="560.1,345.5 560.53,345.64 561.07,345.82 561.72,346.04 562.45,346.28 563.26,346.55 564.13,346.82 565.05,347.11 566,347.4 567.03,347.7 568.15,348.03 569.35,348.37 570.6,348.72 571.87,349.07 573.15,349.43 574.4,349.77 575.6,350.1 576.76,350.42 577.91,350.74 579.04,351.05 580.17,351.36 581.29,351.66 582.42,351.96 583.56,352.24 584.7,352.5 585.85,352.75 587.02,352.98 588.19,353.21 589.36,353.42 590.53,353.62 591.69,353.82 592.85,354.01 594,354.2 595.13,354.38 596.24,354.55 597.33,354.72 598.42,354.87 599.53,355.03 600.65,355.18 601.81,355.34 603,355.5 604.21,355.66 605.43,355.82 606.65,355.98 607.91,356.14 609.2,356.31 610.56,356.47 611.99,356.63 613.5,356.8 615.13,356.97 616.87,357.15 618.7,357.34 620.57,357.52 622.47,357.7 624.37,357.88 626.22,358.04 628,358.2 629.81,358.35 631.72,358.5 633.66,358.65 635.56,358.79 637.34,358.92 638.94,359.03 640.28,359.13 641.3,359.2" fill="none" stroke="#808000" stroke-width="5.2" stroke-linecap="round" stroke-linejoin="round"/>
<polyline points="481.6,307.7 481.78,307.84 482.01,308.02 482.29,308.24 482.61,308.48 482.94,308.74 483.29,309 483.65,309.26 484,309.5 484.35,309.72 484.72,309.94 485.1,310.15 485.49,310.37 485.88,310.6 486.29,310.84 486.69,311.1 487.1,311.4 487.51,311.73 487.91,312.1 488.32,312.5 488.74,312.91 489.16,313.33 489.59,313.74 490.04,314.13 490.5,314.5 490.98,314.85 491.49,315.21 492.02,315.56 492.55,315.89 493.08,316.21 493.61,316.51 494.12,316.77 494.6,317 495.05,317.18 495.49,317.32 495.9,317.43 496.31,317.52 496.71,317.59 497.12,317.65 497.55,317.72 498,317.8 498.47,317.87 498.97,317.93 499.47,317.97 499.99,318.02 500.5,318.07 501.01,318.15 501.52,318.25 502,318.4 502.47,318.59 502.93,318.83 503.39,319.1 503.84,319.39 504.28,319.69 504.72,319.98 505.16,320.26 505.6,320.5 506.02,320.7 506.43,320.88 506.82,321.03 507.22,321.18 507.62,321.34 508.05,321.52 508.5,321.74 509,322 509.54,322.32 510.1,322.68 510.7,323.08 511.31,323.49 511.95,323.93 512.59,324.36 513.24,324.79 513.9,325.2 514.57,325.6 515.28,326 516,326.4 516.72,326.81 517.45,327.21 518.16,327.61 518.85,328 519.5,328.4 520.1,328.78 520.67,329.15 521.2,329.51 521.73,329.87 522.25,330.24 522.8,330.63 523.37,331.05 524,331.5 524.69,332.02 525.43,332.59 526.21,333.21 527,333.84 527.79,334.46 528.57,335.05 529.31,335.57 530,336 530.65,336.34 531.27,336.62 531.87,336.85 532.45,337.03 533,337.19 533.53,337.32 534.03,337.46 534.5,337.6 534.94,337.72 535.34,337.8 535.71,337.85 536.05,337.9 536.38,337.96 536.69,338.05 537,338.19 537.3,338.4 537.6,338.7 537.87,339.07 538.14,339.5 538.39,339.96 538.64,340.43 538.89,340.87 539.14,341.27 539.4,341.6 539.63,341.84 539.82,342.02 539.99,342.14 540.16,342.25 540.38,342.36 540.65,342.51 541.02,342.71 541.5,343 542.11,343.38 542.83,343.83 543.63,344.33 544.49,344.87 545.4,345.42 546.34,345.97 547.28,346.51 548.2,347 549.1,347.46 550.01,347.9 550.93,348.32 551.86,348.74 552.83,349.17 553.83,349.59 554.89,350.04 556,350.5 557.2,350.99 558.48,351.51 559.83,352.05 561.21,352.59 562.59,353.12 563.95,353.65 565.26,354.14 566.5,354.6 567.65,355.02 568.74,355.42 569.78,355.79 570.8,356.14 571.81,356.49 572.84,356.82 573.89,357.16 575,357.5 576.16,357.84 577.35,358.18 578.57,358.51 579.8,358.83 581.04,359.15 582.28,359.47 583.5,359.79 584.7,360.1 585.88,360.41 587.06,360.72 588.23,361.02 589.39,361.33 590.55,361.62 591.71,361.92 592.85,362.21 594,362.5 595.13,362.79 596.24,363.07 597.33,363.36 598.42,363.64 599.53,363.91 600.65,364.18 601.81,364.45 603,364.7 604.21,364.94 605.43,365.17 606.65,365.39 607.91,365.61 609.2,365.82 610.56,366.04 611.99,366.26 613.5,366.5 615.13,366.75 616.87,367.01 618.7,367.28 620.57,367.55 622.47,367.82 624.37,368.09 626.22,368.35 628,368.6 629.81,368.85 631.72,369.11 633.66,369.38 635.56,369.63 637.34,369.87 638.94,370.08 640.28,370.26 641.3,370.4" fill="none" stroke="#000080" stroke-width="5.2" stroke-linecap="round" stroke-linejoin="round"/>
<polyline points="479.7,303 479.79,303.46 479.91,304.08 480.04,304.81 480.2,305.62 480.37,306.48 480.57,307.35 480.78,308.2 481,309 481.25,309.77 481.53,310.55 481.83,311.33 482.15,312.12 482.47,312.9 482.8,313.66 483.11,314.39 483.4,315.1 483.67,315.78 483.92,316.44 484.17,317.07 484.41,317.69 484.66,318.3 484.92,318.88 485.2,319.45 485.5,320 485.83,320.55 486.17,321.09 486.54,321.62 486.91,322.13 487.3,322.61 487.69,323.06 488.09,323.46 488.5,323.8 488.9,324.07 489.31,324.28 489.71,324.43 490.13,324.54 490.56,324.64 491.01,324.74 491.49,324.85 492,325 492.53,325.17 493.08,325.35 493.65,325.54 494.24,325.73 494.85,325.92 495.5,326.12 496.18,326.31 496.9,326.5 497.69,326.68 498.56,326.86 499.49,327.03 500.44,327.2 501.37,327.38 502.27,327.57 503.09,327.77 503.8,328 504.38,328.24 504.84,328.49 505.22,328.74 505.56,329.01 505.9,329.3 506.28,329.61 506.73,329.94 507.3,330.3 507.98,330.7 508.72,331.13 509.53,331.59 510.38,332.07 511.26,332.56 512.17,333.05 513.08,333.53 514,334 514.98,334.48 516.08,334.99 517.22,335.52 518.37,336.03 519.46,336.52 520.45,336.96 521.28,337.32 521.9,337.6" fill="none" stroke="#8000FF" stroke-width="5.2" stroke-linecap="round" stroke-linejoin="round"/>
<polyline points="523,344.9 523.53,345.1 524.22,345.36 525.04,345.66 525.96,346.01 526.95,346.37 527.97,346.75 529,347.13 530,347.5 530.99,347.85 532.01,348.2 533.06,348.56 534.14,348.93 535.23,349.31 536.34,349.71 537.47,350.14 538.6,350.6 539.76,351.11 540.97,351.67 542.21,352.26 543.45,352.88 544.69,353.49 545.9,354.09 547.08,354.67 548.2,355.2 549.24,355.69 550.21,356.16 551.14,356.61 552.04,357.04 552.96,357.46 553.9,357.87 554.91,358.28 556,358.7 557.2,359.12 558.48,359.54 559.83,359.96 561.21,360.37 562.59,360.77 563.95,361.16 565.26,361.54 566.5,361.9 567.65,362.24 568.74,362.56 569.78,362.87 570.8,363.16 571.81,363.45 572.84,363.73 573.89,364.02 575,364.3 576.16,364.59 577.35,364.87 578.57,365.15 579.8,365.43 581.04,365.71 582.28,365.98 583.5,366.24 584.7,366.5 585.88,366.75 587.06,367 588.23,367.24 589.39,367.48 590.55,367.72 591.71,367.95 592.85,368.17 594,368.4 595.13,368.62 596.24,368.84 597.33,369.05 598.42,369.26 599.53,369.47 600.65,369.68 601.81,369.89 603,370.1 604.21,370.31 605.43,370.52 606.65,370.72 607.91,370.93 609.2,371.14 610.56,371.35 611.99,371.57 613.5,371.8 615.13,372.04 616.87,372.28 618.7,372.54 620.57,372.79 622.47,373.05 624.37,373.31 626.22,373.56 628,373.8 629.81,374.05 631.72,374.31 633.66,374.57 635.56,374.82 637.34,375.07 638.94,375.28 640.28,375.46 641.3,375.6" fill="none" stroke="#8000FF" stroke-width="5.2" stroke-linecap="round" stroke-linejoin="round"/>
<polyline points="484.3,317.5 484.38,317.96 484.49,318.57 484.61,319.29 484.75,320.09 484.9,320.95 485.06,321.82 485.23,322.69 485.4,323.5 485.57,324.3 485.76,325.12 485.95,325.97 486.16,326.81 486.36,327.65 486.57,328.47 486.79,329.26 487,330 487.22,330.7 487.44,331.38 487.66,332.03 487.89,332.66 488.12,333.26 488.35,333.86 488.57,334.43 488.8,335 489.02,335.54 489.22,336.05 489.43,336.53 489.63,337 489.84,337.47 490.07,337.95 490.32,338.46 490.6,339 490.91,339.58 491.24,340.2 491.58,340.83 491.95,341.48 492.33,342.13 492.71,342.78 493.11,343.4 493.5,344 493.9,344.57 494.3,345.12 494.71,345.66 495.12,346.19 495.55,346.72 495.99,347.24 496.44,347.77 496.9,348.3 497.36,348.84 497.82,349.38 498.29,349.92 498.77,350.46 499.27,350.99 499.8,351.53 500.38,352.07 501,352.6 501.66,353.12 502.34,353.64 503.05,354.15 503.8,354.66 504.59,355.17 505.43,355.7 506.33,356.24 507.3,356.8 508.34,357.4 509.45,358.05 510.62,358.72 511.84,359.4 513.1,360.07 514.39,360.7 515.69,361.28 517,361.8 518.34,362.24 519.75,362.63 521.2,362.97 522.66,363.28 524.11,363.57 525.53,363.84 526.9,364.12 528.2,364.4 529.4,364.68 530.51,364.95 531.57,365.2 532.6,365.44 533.63,365.69 534.69,365.94 535.8,366.21 537,366.5 538.31,366.81 539.71,367.14 541.17,367.49 542.66,367.84 544.14,368.19 545.58,368.54 546.95,368.88 548.2,369.2 549.32,369.51 550.33,369.8 551.26,370.09 552.14,370.37 553.03,370.66 553.94,370.93 554.92,371.22 556,371.5 557.2,371.79 558.48,372.08 559.83,372.38 561.21,372.67 562.59,372.96 563.95,373.25 565.26,373.53 566.5,373.8 567.65,374.06 568.74,374.32 569.78,374.57 570.8,374.82 571.81,375.06 572.84,375.31 573.89,375.55 575,375.8 576.16,376.05 577.35,376.31 578.57,376.56 579.8,376.82 581.04,377.07 582.28,377.32 583.5,377.56 584.7,377.8 585.88,378.03 587.06,378.25 588.23,378.46 589.39,378.68 590.55,378.88 591.71,379.09 592.85,379.29 594,379.5 595.13,379.7 596.24,379.91 597.33,380.11 598.42,380.31 599.53,380.5 600.65,380.7 601.81,380.9 603,381.1 604.21,381.3 605.43,381.5 606.65,381.69 607.91,381.89 609.2,382.09 610.56,382.29 611.99,382.49 613.5,382.7 615.13,382.92 616.87,383.14 618.7,383.36 620.57,383.59 622.47,383.82 624.37,384.05 626.22,384.28 628,384.5 629.81,384.73 631.72,384.97 633.66,385.22 635.56,385.46 637.34,385.69 638.94,385.9 640.28,386.07 641.3,386.2" fill="none" stroke="#FF8000" stroke-width="5.2" stroke-linecap="round" stroke-linejoin="round"/>
<polyline points="486.6,337 486.78,337.45 487,338.05 487.27,338.76 487.57,339.56 487.9,340.39 488.25,341.24 488.62,342.05 489,342.8 489.4,343.51 489.83,344.21 490.29,344.91 490.76,345.61 491.25,346.29 491.74,346.97 492.22,347.64 492.7,348.3 493.17,348.95 493.63,349.58 494.09,350.21 494.55,350.83 495.02,351.44 495.5,352.04 495.99,352.63 496.5,353.2 497.02,353.76 497.54,354.3 498.07,354.84 498.61,355.36 499.17,355.87 499.75,356.38 500.36,356.89 501,357.4 501.67,357.92 502.38,358.44 503.11,358.96 503.87,359.47 504.64,359.98 505.42,360.47 506.21,360.95 507,361.4 507.8,361.82 508.61,362.23 509.44,362.61 510.27,362.97 511.11,363.33 511.95,363.69 512.78,364.04 513.6,364.4 514.4,364.76 515.17,365.12 515.94,365.47 516.7,365.82 517.48,366.17 518.28,366.51 519.12,366.86 520,367.2 520.93,367.54 521.91,367.87 522.92,368.2 523.95,368.53 525,368.86 526.07,369.2 527.13,369.54 528.2,369.9 529.25,370.27 530.3,370.64 531.35,371.02 532.41,371.4 533.5,371.79 534.62,372.19 535.78,372.59 537,373 538.31,373.43 539.71,373.88 541.17,374.34 542.66,374.8 544.14,375.26 545.58,375.7 546.95,376.12 548.2,376.5 549.32,376.84 550.33,377.16 551.26,377.45 552.14,377.72 553.03,377.99 553.94,378.25 554.92,378.52 556,378.8 557.2,379.09 558.48,379.38 559.83,379.68 561.21,379.98 562.59,380.27 563.95,380.55 565.26,380.83 566.5,381.1 567.65,381.36 568.74,381.61 569.78,381.85 570.8,382.09 571.81,382.32 572.84,382.55 573.89,382.77 575,383 576.16,383.22 577.35,383.44 578.57,383.66 579.8,383.88 581.04,384.09 582.28,384.29 583.5,384.5 584.7,384.7 585.88,384.9 587.06,385.09 588.23,385.29 589.39,385.48 590.55,385.66 591.71,385.84 592.85,386.02 594,386.2 595.13,386.37 596.24,386.54 597.33,386.71 598.42,386.87 599.53,387.03 600.65,387.19 601.81,387.34 603,387.5 604.21,387.65 605.43,387.8 606.65,387.95 607.91,388.1 609.2,388.25 610.56,388.4 611.99,388.55 613.5,388.7 615.13,388.86 616.87,389.02 618.7,389.19 620.57,389.36 622.47,389.52 624.37,389.69 626.22,389.85 628,390 629.81,390.15 631.72,390.31 633.66,390.48 635.56,390.63 637.34,390.78 638.94,390.91 640.28,391.02 641.3,391.1" fill="none" stroke="#404040" stroke-width="5.2" stroke-linecap="round" stroke-linejoin="round"/>
<circle cx="480.6" cy="275.2" r="2.6" fill="#FF8000"/>
<circle cx="481.6" cy="278.5" r="2.6" fill="#FF8000"/>
<circle cx="480.6" cy="283" r="2.6" fill="#404040"/>
<circle cx="480.6" cy="290" r="2.6" fill="#000080"/>
<circle cx="480.8" cy="296.5" r="2.6" fill="#0000FF"/>
<circle cx="480.2" cy="318.8" r="2.6" fill="#00FF00"/>
<circle cx="481.6" cy="322.5" r="2.6" fill="#00FF00"/>
<circle cx="482.5" cy="308.6" r="2.6" fill="#FF8000"/>
<circle cx="483.3" cy="313.6" r="2.6" fill="#FF8000"/>
<circle cx="484.3" cy="318.8" r="2.6" fill="#FF8000"/>
<circle cx="485.3" cy="323.6" r="2.6" fill="#FF8000"/>
<circle cx="486.4" cy="328.2" r="2.6" fill="#FF8000"/>
<circle cx="487.7" cy="332.6" r="2.6" fill="#FF8000"/>
<circle cx="481.6" cy="301.2" r="2.6" fill="#404040"/>
<circle cx="482.5" cy="306.7" r="2.6" fill="#404040"/>
<circle cx="483.4" cy="313.2" r="2.6" fill="#404040"/>
<circle cx="484.3" cy="319.7" r="2.6" fill="#404040"/>
<circle cx="485.3" cy="325.2" r="2.6" fill="#404040"/>
<circle cx="486.6" cy="330.8" r="2.6" fill="#404040"/>
<circle cx="488.2" cy="336.2" r="2.6" fill="#404040"/>
</g>
<line x1="533.4" y1="258.3" x2="533.4" y2="268.5" stroke="#000" stroke-width="1.0" />
<polygon points="531,267.5 535.8,267.5 533.4,276.5" fill="#000"/>
<line x1="517.8" y1="262" x2="517.8" y2="271.7" stroke="#000" stroke-width="1.0" />
<polygon points="515.4,270.7 520.2,270.7 517.8,279.7" fill="#000"/>
<line x1="508.4" y1="267.6" x2="508.4" y2="277.5" stroke="#000" stroke-width="1.0" />
<polygon points="506,276.5 510.8,276.5 508.4,285.5" fill="#000"/>
<line x1="505" y1="273.7" x2="505" y2="282.5" stroke="#000" stroke-width="1.0" />
<polygon points="502.6,281.5 507.4,281.5 505,290.5" fill="#000"/>
<line x1="503.6" y1="293.5" x2="503.6" y2="301.5" stroke="#000" stroke-width="1.0" />
<polygon points="501.2,300.5 506,300.5 503.6,309.5" fill="#000"/>
<line x1="501.4" y1="305" x2="501.4" y2="316.5" stroke="#000" stroke-width="1.0" />
<polygon points="499,315.5 503.8,315.5 501.4,324.5" fill="#000"/>
<rect x="478.7" y="231.4" width="173.9" height="167.2" fill="none" stroke="#000" stroke-width="1.3"/>
<line x1="478.7" y1="398.6" x2="478.7" y2="393.1" stroke="#000" stroke-width="1.1" />
<line x1="478.7" y1="231.4" x2="478.7" y2="236.9" stroke="#000" stroke-width="1.1" />
<line x1="533.13" y1="398.6" x2="533.13" y2="393.1" stroke="#000" stroke-width="1.1" />
<line x1="533.13" y1="231.4" x2="533.13" y2="236.9" stroke="#000" stroke-width="1.1" />
<line x1="587.56" y1="398.6" x2="587.56" y2="393.1" stroke="#000" stroke-width="1.1" />
<line x1="587.56" y1="231.4" x2="587.56" y2="236.9" stroke="#000" stroke-width="1.1" />
<line x1="641.99" y1="398.6" x2="641.99" y2="393.1" stroke="#000" stroke-width="1.1" />
<line x1="641.99" y1="231.4" x2="641.99" y2="236.9" stroke="#000" stroke-width="1.1" />
<line x1="505.91" y1="398.6" x2="505.91" y2="395.6" stroke="#000" stroke-width="1.1" />
<line x1="505.91" y1="231.4" x2="505.91" y2="234.4" stroke="#000" stroke-width="1.1" />
<line x1="560.35" y1="398.6" x2="560.35" y2="395.6" stroke="#000" stroke-width="1.1" />
<line x1="560.35" y1="231.4" x2="560.35" y2="234.4" stroke="#000" stroke-width="1.1" />
<line x1="614.77" y1="398.6" x2="614.77" y2="395.6" stroke="#000" stroke-width="1.1" />
<line x1="614.77" y1="231.4" x2="614.77" y2="234.4" stroke="#000" stroke-width="1.1" />
<line x1="478.7" y1="389.3" x2="484.2" y2="389.3" stroke="#000" stroke-width="1.1" />
<line x1="478.7" y1="342.8" x2="484.2" y2="342.8" stroke="#000" stroke-width="1.1" />
<line x1="478.7" y1="296.3" x2="484.2" y2="296.3" stroke="#000" stroke-width="1.1" />
<line x1="478.7" y1="249.8" x2="484.2" y2="249.8" stroke="#000" stroke-width="1.1" />
<line x1="478.7" y1="366.05" x2="481.7" y2="366.05" stroke="#000" stroke-width="1.1" />
<line x1="478.7" y1="319.55" x2="481.7" y2="319.55" stroke="#000" stroke-width="1.1" />
<line x1="478.7" y1="273.05" x2="481.7" y2="273.05" stroke="#000" stroke-width="1.1" />
<line x1="652.6" y1="389.3" x2="647.1" y2="389.3" stroke="#000" stroke-width="1.1" />
<line x1="652.6" y1="342.8" x2="647.1" y2="342.8" stroke="#000" stroke-width="1.1" />
<line x1="652.6" y1="296.3" x2="647.1" y2="296.3" stroke="#000" stroke-width="1.1" />
<line x1="652.6" y1="249.8" x2="647.1" y2="249.8" stroke="#000" stroke-width="1.1" />
<line x1="652.6" y1="366.05" x2="649.6" y2="366.05" stroke="#000" stroke-width="1.1" />
<line x1="652.6" y1="319.55" x2="649.6" y2="319.55" stroke="#000" stroke-width="1.1" />
<line x1="652.6" y1="273.05" x2="649.6" y2="273.05" stroke="#000" stroke-width="1.1" />
<text x="478.7" y="415.2" font-size="11.7" text-anchor="middle" >0</text>
<text x="533.13" y="415.2" font-size="11.7" text-anchor="middle" >100</text>
<text x="587.56" y="415.2" font-size="11.7" text-anchor="middle" >200</text>
<text x="641.99" y="415.2" font-size="11.7" text-anchor="middle" >300</text>
<text x="472.5" y="393.4" font-size="11.7" text-anchor="end" >-5</text>
<text x="472.5" y="346.9" font-size="11.7" text-anchor="end" >0</text>
<text x="472.5" y="300.4" font-size="11.7" text-anchor="end" >5</text>
<text x="472.5" y="253.9" font-size="11.7" text-anchor="end" >10</text>
<text x="565.65" y="428.5" font-size="13" text-anchor="middle"><tspan font-style="italic">T</tspan> (K)</text>
<text transform="translate(457.3,315.5) rotate(-90)" font-size="13.2" text-anchor="middle"><tspan font-style="italic" font-family="Liberation Serif" font-size="14.4">&#967;</tspan> (&#215;10<tspan font-size="9.3" dy="-4.7">-3</tspan><tspan dy="4.7"> emu mol</tspan><tspan font-size="9.3" dy="-4.7">-1</tspan><tspan dy="4.7">)</tspan></text>
<text x="529" y="252" font-size="12.5" font-style="italic">T</text><text x="536.6" y="255.5" font-size="8.8">N</text>
<text x="564.2" y="249.3" font-size="12.7"><tspan font-style="italic">P</tspan> (GPa)</text>
<circle cx="570.7" cy="259.5" r="2.6" fill="#000000"/>
<text x="580.4" y="263.7" font-size="12.1" text-anchor="start" >0</text>
<circle cx="570.7" cy="273.8" r="2.6" fill="#FF0000"/>
<text x="580.4" y="278" font-size="12.1" text-anchor="start" >1.68</text>
<circle cx="570.7" cy="288.1" r="2.6" fill="#00FF00"/>
<text x="580.4" y="292.3" font-size="12.1" text-anchor="start" >2.54</text>
<circle cx="570.7" cy="302.4" r="2.6" fill="#0000FF"/>
<text x="580.4" y="306.6" font-size="12.1" text-anchor="start" >2.82</text>
<circle cx="612.3" cy="245.5" r="2.6" fill="#808000"/>
<text x="621.6" y="249.7" font-size="12.1" text-anchor="start" >3.15</text>
<circle cx="612.3" cy="259.95" r="2.6" fill="#000080"/>
<text x="621.6" y="264.15" font-size="12.1" text-anchor="start" >3.52</text>
<circle cx="612.3" cy="274.4" r="2.6" fill="#8000FF"/>
<text x="621.6" y="278.6" font-size="12.1" text-anchor="start" >3.69</text>
<circle cx="612.3" cy="288.85" r="2.6" fill="#FF8000"/>
<text x="621.6" y="293.05" font-size="12.1" text-anchor="start" >4.07</text>
<circle cx="612.3" cy="303.3" r="2.6" fill="#404040"/>
<text x="621.6" y="307.5" font-size="12.1" text-anchor="start" >4.26</text>
<text x="486.7" y="389.6" font-size="12.1" text-anchor="start" >run No. 2</text>
<text x="-1.2" y="13.5" font-size="16.5" font-weight="bold">a</text>
<text x="-0.5" y="241.4" font-size="16.5" font-weight="bold">b</text>
<text x="206.2" y="13.9" font-size="16.5" font-weight="bold">c</text>
<text x="211.2" y="240.8" font-size="16.5" font-weight="bold">d</text>
<text x="435.5" y="13.5" font-size="16.5" font-weight="bold">e</text>
<text x="441.5" y="240.8" font-size="16.5" font-weight="bold">f</text>
</svg></body></html>
